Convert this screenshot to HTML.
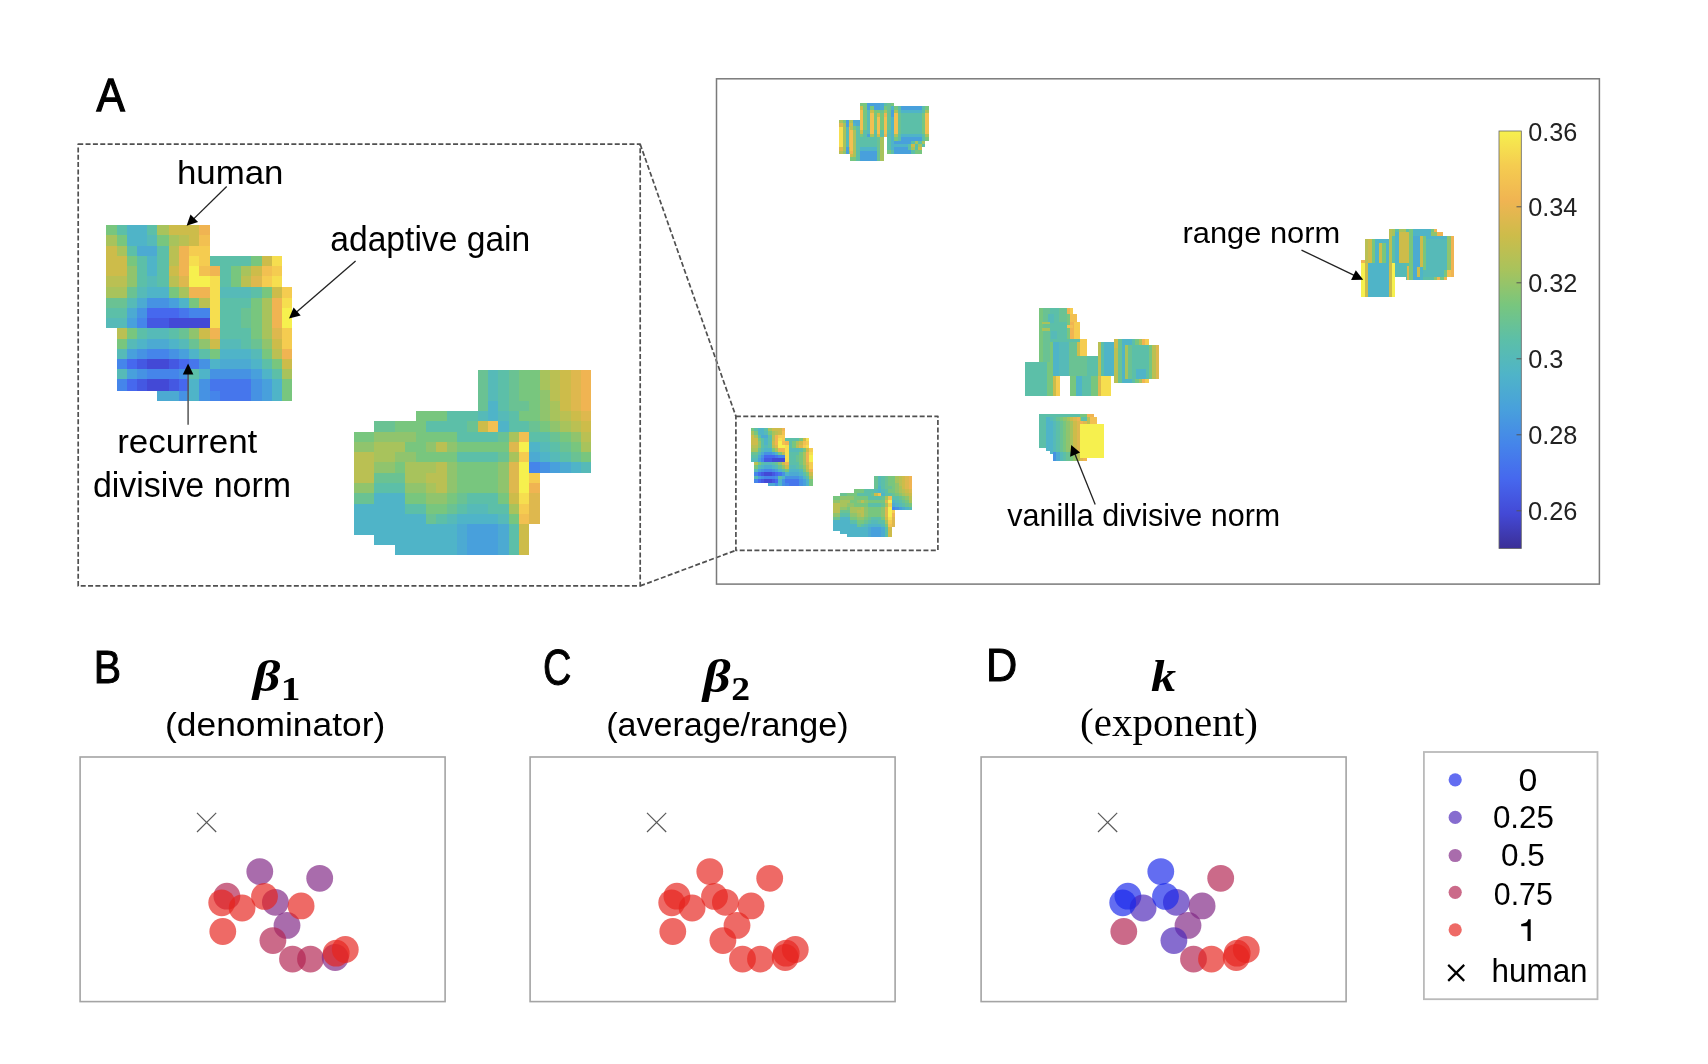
<!DOCTYPE html>
<html><head><meta charset="utf-8"><style>html,body{margin:0;padding:0;background:#fff;overflow:hidden}svg{display:block;will-change:transform}</style></head>
<body><svg width="1708" height="1064" viewBox="0 0 1708 1064">
<rect x="0" y="0" width="1708" height="1064" fill="#fff"/>
<text x="96.40" y="111.30" font-family="Liberation Sans" font-size="46.32" font-weight="normal" font-style="normal" fill="#000" textLength="28.34" lengthAdjust="spacingAndGlyphs" stroke="#000" stroke-width="1.30">A</text>
<text x="93.80" y="683.10" font-family="Liberation Sans" font-size="46.57" font-weight="normal" font-style="normal" fill="#000" textLength="27.37" lengthAdjust="spacingAndGlyphs" stroke="#000" stroke-width="1.00">B</text>
<text x="543.00" y="684.50" font-family="Liberation Sans" font-size="49.67" font-weight="normal" font-style="normal" fill="#000" textLength="28.41" lengthAdjust="spacingAndGlyphs" stroke="#000" stroke-width="1.00">C</text>
<text x="986.00" y="681.00" font-family="Liberation Sans" font-size="46.57" font-weight="normal" font-style="normal" fill="#000" textLength="31.28" lengthAdjust="spacingAndGlyphs" stroke="#000" stroke-width="1.00">D</text>
<rect x="78.2" y="144.2" width="562" height="441.7" stroke="#505050" stroke-width="1.7" stroke-dasharray="5 2.35" stroke-linejoin="round" fill="none"/>
<rect x="735.9" y="416.3" width="202" height="134" stroke="#505050" stroke-width="1.7" stroke-dasharray="5 2.35" stroke-linejoin="round" fill="none"/>
<line x1="640.2" y1="144.2" x2="735.9" y2="416.3" stroke="#505050" stroke-width="1.7" stroke-dasharray="5 2.35" stroke-linejoin="round" fill="none"/>
<line x1="640.2" y1="585.9" x2="735.9" y2="550.3" stroke="#505050" stroke-width="1.7" stroke-dasharray="5 2.35" stroke-linejoin="round" fill="none"/>
<rect x="716.5" y="78.8" width="882.9" height="505.3" stroke="#7a7a7a" stroke-width="1.5" fill="none"/>
<g shape-rendering="crispEdges"><rect x="106" y="225" width="11" height="10" fill="#78c67e"/>
<rect x="117" y="225" width="10" height="10" fill="#5cbfa8"/>
<rect x="127" y="225" width="10" height="10" fill="#4fb4c8"/>
<rect x="137" y="225" width="10" height="10" fill="#4fb4c8"/>
<rect x="147" y="225" width="10" height="10" fill="#5cbfa8"/>
<rect x="157" y="225" width="12" height="10" fill="#a8c35c"/>
<rect x="169" y="225" width="10" height="10" fill="#cdbc4a"/>
<rect x="179" y="225" width="10" height="10" fill="#cdbc4a"/>
<rect x="189" y="225" width="10" height="10" fill="#cdbc4a"/>
<rect x="199" y="225" width="11" height="10" fill="#f0b452"/>
<rect x="106" y="235" width="11" height="11" fill="#a8c35c"/>
<rect x="117" y="235" width="10" height="11" fill="#78c67e"/>
<rect x="127" y="235" width="10" height="11" fill="#4fb4c8"/>
<rect x="137" y="235" width="10" height="11" fill="#4fb4c8"/>
<rect x="147" y="235" width="10" height="11" fill="#56bab8"/>
<rect x="157" y="235" width="12" height="11" fill="#78c67e"/>
<rect x="169" y="235" width="10" height="11" fill="#a8c35c"/>
<rect x="179" y="235" width="10" height="11" fill="#bac053"/>
<rect x="189" y="235" width="10" height="11" fill="#cdbc4a"/>
<rect x="199" y="235" width="11" height="11" fill="#f2c051"/>
<rect x="106" y="246" width="11" height="10" fill="#cdbc4a"/>
<rect x="117" y="246" width="10" height="10" fill="#a8c35c"/>
<rect x="127" y="246" width="10" height="10" fill="#5cbfa8"/>
<rect x="137" y="246" width="10" height="10" fill="#4caad2"/>
<rect x="147" y="246" width="10" height="10" fill="#4caad2"/>
<rect x="157" y="246" width="12" height="10" fill="#5cbfa8"/>
<rect x="169" y="246" width="10" height="10" fill="#bac053"/>
<rect x="179" y="246" width="10" height="10" fill="#f0b452"/>
<rect x="189" y="246" width="10" height="10" fill="#f5cc50"/>
<rect x="199" y="246" width="11" height="10" fill="#f5cc50"/>
<rect x="106" y="256" width="11" height="10" fill="#cdbc4a"/>
<rect x="117" y="256" width="10" height="10" fill="#cdbc4a"/>
<rect x="127" y="256" width="10" height="10" fill="#78c67e"/>
<rect x="137" y="256" width="10" height="10" fill="#5cbfa8"/>
<rect x="147" y="256" width="10" height="10" fill="#4fb4c8"/>
<rect x="157" y="256" width="12" height="10" fill="#5cbfa8"/>
<rect x="169" y="256" width="10" height="10" fill="#bac053"/>
<rect x="179" y="256" width="10" height="10" fill="#f0b452"/>
<rect x="189" y="256" width="10" height="10" fill="#f6de4f"/>
<rect x="199" y="256" width="11" height="10" fill="#f5cc50"/>
<rect x="210" y="256" width="10" height="10" fill="#5cbfa8"/>
<rect x="220" y="256" width="11" height="10" fill="#5cbfa8"/>
<rect x="231" y="256" width="10" height="10" fill="#5cbfa8"/>
<rect x="241" y="256" width="10" height="10" fill="#5cbfa8"/>
<rect x="251" y="256" width="11" height="10" fill="#78c67e"/>
<rect x="262" y="256" width="10" height="10" fill="#cdbc4a"/>
<rect x="272" y="256" width="10" height="10" fill="#f6de4f"/>
<rect x="106" y="266" width="11" height="10" fill="#cdbc4a"/>
<rect x="117" y="266" width="10" height="10" fill="#cdbc4a"/>
<rect x="127" y="266" width="10" height="10" fill="#90c46d"/>
<rect x="137" y="266" width="10" height="10" fill="#5cbfa8"/>
<rect x="147" y="266" width="10" height="10" fill="#4fb4c8"/>
<rect x="157" y="266" width="12" height="10" fill="#5cbfa8"/>
<rect x="169" y="266" width="10" height="10" fill="#cdbc4a"/>
<rect x="179" y="266" width="10" height="10" fill="#f0b452"/>
<rect x="189" y="266" width="10" height="10" fill="#f6f04e"/>
<rect x="199" y="266" width="11" height="10" fill="#f2c051"/>
<rect x="210" y="266" width="10" height="10" fill="#f0b452"/>
<rect x="220" y="266" width="11" height="10" fill="#5cbfa8"/>
<rect x="231" y="266" width="10" height="10" fill="#78c67e"/>
<rect x="241" y="266" width="10" height="10" fill="#a8c35c"/>
<rect x="251" y="266" width="11" height="10" fill="#cdbc4a"/>
<rect x="262" y="266" width="10" height="10" fill="#f2c051"/>
<rect x="272" y="266" width="10" height="10" fill="#f5cc50"/>
<rect x="106" y="276" width="11" height="11" fill="#bac053"/>
<rect x="117" y="276" width="10" height="11" fill="#bac053"/>
<rect x="127" y="276" width="10" height="11" fill="#90c46d"/>
<rect x="137" y="276" width="10" height="11" fill="#5cbfa8"/>
<rect x="147" y="276" width="10" height="11" fill="#56bab8"/>
<rect x="157" y="276" width="12" height="11" fill="#5cbfa8"/>
<rect x="169" y="276" width="10" height="11" fill="#bac053"/>
<rect x="179" y="276" width="10" height="11" fill="#deb84e"/>
<rect x="189" y="276" width="10" height="11" fill="#f6f04e"/>
<rect x="199" y="276" width="11" height="11" fill="#f6f04e"/>
<rect x="210" y="276" width="10" height="11" fill="#f6de4f"/>
<rect x="220" y="276" width="11" height="11" fill="#5cbfa8"/>
<rect x="231" y="276" width="10" height="11" fill="#78c67e"/>
<rect x="241" y="276" width="10" height="11" fill="#bac053"/>
<rect x="251" y="276" width="11" height="11" fill="#deb84e"/>
<rect x="262" y="276" width="10" height="11" fill="#f5cc50"/>
<rect x="272" y="276" width="10" height="11" fill="#f6de4f"/>
<rect x="106" y="287" width="11" height="11" fill="#a8c35c"/>
<rect x="117" y="287" width="10" height="11" fill="#a8c35c"/>
<rect x="127" y="287" width="10" height="11" fill="#6ac293"/>
<rect x="137" y="287" width="10" height="11" fill="#56bab8"/>
<rect x="147" y="287" width="10" height="11" fill="#4fb4c8"/>
<rect x="157" y="287" width="12" height="11" fill="#4fb4c8"/>
<rect x="169" y="287" width="10" height="11" fill="#78c67e"/>
<rect x="179" y="287" width="10" height="11" fill="#a8c35c"/>
<rect x="189" y="287" width="10" height="11" fill="#f0b452"/>
<rect x="199" y="287" width="11" height="11" fill="#f0b452"/>
<rect x="210" y="287" width="10" height="11" fill="#f6de4f"/>
<rect x="220" y="287" width="11" height="11" fill="#56bab8"/>
<rect x="231" y="287" width="10" height="11" fill="#56bab8"/>
<rect x="241" y="287" width="10" height="11" fill="#56bab8"/>
<rect x="251" y="287" width="11" height="11" fill="#5cbfa8"/>
<rect x="262" y="287" width="10" height="11" fill="#78c67e"/>
<rect x="272" y="287" width="10" height="11" fill="#cdbc4a"/>
<rect x="282" y="287" width="10" height="11" fill="#f5cc50"/>
<rect x="106" y="298" width="11" height="10" fill="#6ac293"/>
<rect x="117" y="298" width="10" height="10" fill="#6ac293"/>
<rect x="127" y="298" width="10" height="10" fill="#56bab8"/>
<rect x="137" y="298" width="10" height="10" fill="#4caad2"/>
<rect x="147" y="298" width="10" height="10" fill="#4692e3"/>
<rect x="157" y="298" width="12" height="10" fill="#4692e3"/>
<rect x="169" y="298" width="10" height="10" fill="#48a0dc"/>
<rect x="179" y="298" width="10" height="10" fill="#4fb4c8"/>
<rect x="189" y="298" width="10" height="10" fill="#78c67e"/>
<rect x="199" y="298" width="11" height="10" fill="#bac053"/>
<rect x="210" y="298" width="10" height="10" fill="#f6de4f"/>
<rect x="220" y="298" width="11" height="10" fill="#5cbfa8"/>
<rect x="231" y="298" width="10" height="10" fill="#5cbfa8"/>
<rect x="241" y="298" width="10" height="10" fill="#5cbfa8"/>
<rect x="251" y="298" width="11" height="10" fill="#78c67e"/>
<rect x="262" y="298" width="10" height="10" fill="#a8c35c"/>
<rect x="272" y="298" width="10" height="10" fill="#f0b452"/>
<rect x="282" y="298" width="10" height="10" fill="#f6de4f"/>
<rect x="106" y="308" width="11" height="10" fill="#5cbfa8"/>
<rect x="117" y="308" width="10" height="10" fill="#5cbfa8"/>
<rect x="127" y="308" width="10" height="10" fill="#4caad2"/>
<rect x="137" y="308" width="10" height="10" fill="#4692e3"/>
<rect x="147" y="308" width="10" height="10" fill="#4668ee"/>
<rect x="157" y="308" width="12" height="10" fill="#4668ee"/>
<rect x="169" y="308" width="10" height="10" fill="#4668ee"/>
<rect x="179" y="308" width="10" height="10" fill="#4676ec"/>
<rect x="189" y="308" width="10" height="10" fill="#4585ea"/>
<rect x="199" y="308" width="11" height="10" fill="#4585ea"/>
<rect x="210" y="308" width="10" height="10" fill="#f6de4f"/>
<rect x="220" y="308" width="11" height="10" fill="#5cbfa8"/>
<rect x="231" y="308" width="10" height="10" fill="#5cbfa8"/>
<rect x="241" y="308" width="10" height="10" fill="#6ac293"/>
<rect x="251" y="308" width="11" height="10" fill="#78c67e"/>
<rect x="262" y="308" width="10" height="10" fill="#a8c35c"/>
<rect x="272" y="308" width="10" height="10" fill="#f0b452"/>
<rect x="282" y="308" width="10" height="10" fill="#f6f04e"/>
<rect x="106" y="318" width="11" height="10" fill="#56bab8"/>
<rect x="117" y="318" width="10" height="10" fill="#56bab8"/>
<rect x="127" y="318" width="10" height="10" fill="#48a0dc"/>
<rect x="137" y="318" width="10" height="10" fill="#4585ea"/>
<rect x="147" y="318" width="10" height="10" fill="#4458e2"/>
<rect x="157" y="318" width="12" height="10" fill="#4458e2"/>
<rect x="169" y="318" width="10" height="10" fill="#4349d6"/>
<rect x="179" y="318" width="10" height="10" fill="#4349d6"/>
<rect x="189" y="318" width="10" height="10" fill="#4349d6"/>
<rect x="199" y="318" width="11" height="10" fill="#4349d6"/>
<rect x="210" y="318" width="10" height="10" fill="#f6de4f"/>
<rect x="220" y="318" width="11" height="10" fill="#5cbfa8"/>
<rect x="231" y="318" width="10" height="10" fill="#5cbfa8"/>
<rect x="241" y="318" width="10" height="10" fill="#6ac293"/>
<rect x="251" y="318" width="11" height="10" fill="#78c67e"/>
<rect x="262" y="318" width="10" height="10" fill="#a8c35c"/>
<rect x="272" y="318" width="10" height="10" fill="#f0b452"/>
<rect x="282" y="318" width="10" height="10" fill="#f6f04e"/>
<rect x="117" y="328" width="10" height="11" fill="#bac053"/>
<rect x="127" y="328" width="10" height="11" fill="#78c67e"/>
<rect x="137" y="328" width="10" height="11" fill="#5cbfa8"/>
<rect x="147" y="328" width="10" height="11" fill="#56bab8"/>
<rect x="157" y="328" width="12" height="11" fill="#56bab8"/>
<rect x="169" y="328" width="10" height="11" fill="#5cbfa8"/>
<rect x="179" y="328" width="10" height="11" fill="#6ac293"/>
<rect x="189" y="328" width="10" height="11" fill="#90c46d"/>
<rect x="199" y="328" width="11" height="11" fill="#cdbc4a"/>
<rect x="210" y="328" width="10" height="11" fill="#f0b452"/>
<rect x="220" y="328" width="11" height="11" fill="#5cbfa8"/>
<rect x="231" y="328" width="10" height="11" fill="#5cbfa8"/>
<rect x="241" y="328" width="10" height="11" fill="#5cbfa8"/>
<rect x="251" y="328" width="11" height="11" fill="#78c67e"/>
<rect x="262" y="328" width="10" height="11" fill="#a8c35c"/>
<rect x="272" y="328" width="10" height="11" fill="#deb84e"/>
<rect x="282" y="328" width="10" height="11" fill="#f5cc50"/>
<rect x="117" y="339" width="10" height="10" fill="#78c67e"/>
<rect x="127" y="339" width="10" height="10" fill="#56bab8"/>
<rect x="137" y="339" width="10" height="10" fill="#4fb4c8"/>
<rect x="147" y="339" width="10" height="10" fill="#4caad2"/>
<rect x="157" y="339" width="12" height="10" fill="#4caad2"/>
<rect x="169" y="339" width="10" height="10" fill="#4fb4c8"/>
<rect x="179" y="339" width="10" height="10" fill="#56bab8"/>
<rect x="189" y="339" width="10" height="10" fill="#6ac293"/>
<rect x="199" y="339" width="11" height="10" fill="#90c46d"/>
<rect x="210" y="339" width="10" height="10" fill="#cdbc4a"/>
<rect x="220" y="339" width="11" height="10" fill="#56bab8"/>
<rect x="231" y="339" width="10" height="10" fill="#56bab8"/>
<rect x="241" y="339" width="10" height="10" fill="#5cbfa8"/>
<rect x="251" y="339" width="11" height="10" fill="#6ac293"/>
<rect x="262" y="339" width="10" height="10" fill="#90c46d"/>
<rect x="272" y="339" width="10" height="10" fill="#cdbc4a"/>
<rect x="282" y="339" width="10" height="10" fill="#f5cc50"/>
<rect x="117" y="349" width="10" height="10" fill="#56bab8"/>
<rect x="127" y="349" width="10" height="10" fill="#48a0dc"/>
<rect x="137" y="349" width="10" height="10" fill="#4692e3"/>
<rect x="147" y="349" width="10" height="10" fill="#4585ea"/>
<rect x="157" y="349" width="12" height="10" fill="#4585ea"/>
<rect x="169" y="349" width="10" height="10" fill="#4692e3"/>
<rect x="179" y="349" width="10" height="10" fill="#48a0dc"/>
<rect x="189" y="349" width="10" height="10" fill="#4fb4c8"/>
<rect x="199" y="349" width="11" height="10" fill="#5cbfa8"/>
<rect x="210" y="349" width="10" height="10" fill="#78c67e"/>
<rect x="220" y="349" width="11" height="10" fill="#4fb4c8"/>
<rect x="231" y="349" width="10" height="10" fill="#4fb4c8"/>
<rect x="241" y="349" width="10" height="10" fill="#4fb4c8"/>
<rect x="251" y="349" width="11" height="10" fill="#56bab8"/>
<rect x="262" y="349" width="10" height="10" fill="#78c67e"/>
<rect x="272" y="349" width="10" height="10" fill="#bac053"/>
<rect x="282" y="349" width="10" height="10" fill="#f0b452"/>
<rect x="117" y="359" width="10" height="10" fill="#4585ea"/>
<rect x="127" y="359" width="10" height="10" fill="#4668ee"/>
<rect x="137" y="359" width="10" height="10" fill="#4458e2"/>
<rect x="147" y="359" width="10" height="10" fill="#4349d6"/>
<rect x="157" y="359" width="12" height="10" fill="#4349d6"/>
<rect x="169" y="359" width="10" height="10" fill="#4458e2"/>
<rect x="179" y="359" width="10" height="10" fill="#4668ee"/>
<rect x="189" y="359" width="10" height="10" fill="#4676ec"/>
<rect x="199" y="359" width="11" height="10" fill="#4692e3"/>
<rect x="210" y="359" width="10" height="10" fill="#4fb4c8"/>
<rect x="220" y="359" width="11" height="10" fill="#4caad2"/>
<rect x="231" y="359" width="10" height="10" fill="#4caad2"/>
<rect x="241" y="359" width="10" height="10" fill="#4caad2"/>
<rect x="251" y="359" width="11" height="10" fill="#4fb4c8"/>
<rect x="262" y="359" width="10" height="10" fill="#5cbfa8"/>
<rect x="272" y="359" width="10" height="10" fill="#78c67e"/>
<rect x="282" y="359" width="10" height="10" fill="#cdbc4a"/>
<rect x="117" y="369" width="10" height="10" fill="#56bab8"/>
<rect x="127" y="369" width="10" height="10" fill="#48a0dc"/>
<rect x="137" y="369" width="10" height="10" fill="#4692e3"/>
<rect x="147" y="369" width="10" height="10" fill="#4585ea"/>
<rect x="157" y="369" width="12" height="10" fill="#4585ea"/>
<rect x="169" y="369" width="10" height="10" fill="#4585ea"/>
<rect x="179" y="369" width="10" height="10" fill="#4692e3"/>
<rect x="189" y="369" width="10" height="10" fill="#5cbfa8"/>
<rect x="199" y="369" width="11" height="10" fill="#4fb4c8"/>
<rect x="210" y="369" width="10" height="10" fill="#4692e3"/>
<rect x="220" y="369" width="11" height="10" fill="#4692e3"/>
<rect x="231" y="369" width="10" height="10" fill="#4692e3"/>
<rect x="241" y="369" width="10" height="10" fill="#4692e3"/>
<rect x="251" y="369" width="11" height="10" fill="#48a0dc"/>
<rect x="262" y="369" width="10" height="10" fill="#4fb4c8"/>
<rect x="272" y="369" width="10" height="10" fill="#5cbfa8"/>
<rect x="282" y="369" width="10" height="10" fill="#a8c35c"/>
<rect x="117" y="379" width="10" height="12" fill="#4585ea"/>
<rect x="127" y="379" width="10" height="12" fill="#4668ee"/>
<rect x="137" y="379" width="10" height="12" fill="#4458e2"/>
<rect x="147" y="379" width="10" height="12" fill="#4349d6"/>
<rect x="157" y="379" width="12" height="12" fill="#4349d6"/>
<rect x="169" y="379" width="10" height="12" fill="#4458e2"/>
<rect x="179" y="379" width="10" height="12" fill="#4668ee"/>
<rect x="189" y="379" width="10" height="12" fill="#4fb4c8"/>
<rect x="199" y="379" width="11" height="12" fill="#4692e3"/>
<rect x="210" y="379" width="10" height="12" fill="#4676ec"/>
<rect x="220" y="379" width="11" height="12" fill="#4676ec"/>
<rect x="231" y="379" width="10" height="12" fill="#4676ec"/>
<rect x="241" y="379" width="10" height="12" fill="#4676ec"/>
<rect x="251" y="379" width="11" height="12" fill="#4692e3"/>
<rect x="262" y="379" width="10" height="12" fill="#48a0dc"/>
<rect x="272" y="379" width="10" height="12" fill="#4fb4c8"/>
<rect x="282" y="379" width="10" height="12" fill="#78c67e"/>
<rect x="157" y="391" width="12" height="10" fill="#4caad2"/>
<rect x="169" y="391" width="10" height="10" fill="#4caad2"/>
<rect x="179" y="391" width="10" height="10" fill="#4692e3"/>
<rect x="189" y="391" width="10" height="10" fill="#4fb4c8"/>
<rect x="199" y="391" width="11" height="10" fill="#4692e3"/>
<rect x="210" y="391" width="10" height="10" fill="#4585ea"/>
<rect x="220" y="391" width="11" height="10" fill="#4676ec"/>
<rect x="231" y="391" width="10" height="10" fill="#4676ec"/>
<rect x="241" y="391" width="10" height="10" fill="#4676ec"/>
<rect x="251" y="391" width="11" height="10" fill="#4692e3"/>
<rect x="262" y="391" width="10" height="10" fill="#48a0dc"/>
<rect x="272" y="391" width="10" height="10" fill="#4fb4c8"/>
<rect x="282" y="391" width="10" height="10" fill="#78c67e"/>
<rect x="478" y="370" width="10" height="10" fill="#6ac293"/>
<rect x="488" y="370" width="10" height="10" fill="#56bab8"/>
<rect x="498" y="370" width="11" height="10" fill="#5cbfa8"/>
<rect x="509" y="370" width="10" height="10" fill="#6ac293"/>
<rect x="519" y="370" width="10" height="10" fill="#78c67e"/>
<rect x="529" y="370" width="11" height="10" fill="#78c67e"/>
<rect x="540" y="370" width="10" height="10" fill="#a8c35c"/>
<rect x="550" y="370" width="10" height="10" fill="#bac053"/>
<rect x="560" y="370" width="11" height="10" fill="#cdbc4a"/>
<rect x="571" y="370" width="10" height="10" fill="#deb84e"/>
<rect x="581" y="370" width="10" height="10" fill="#f0b452"/>
<rect x="478" y="380" width="10" height="10" fill="#6ac293"/>
<rect x="488" y="380" width="10" height="10" fill="#56bab8"/>
<rect x="498" y="380" width="11" height="10" fill="#5cbfa8"/>
<rect x="509" y="380" width="10" height="10" fill="#6ac293"/>
<rect x="519" y="380" width="10" height="10" fill="#78c67e"/>
<rect x="529" y="380" width="11" height="10" fill="#78c67e"/>
<rect x="540" y="380" width="10" height="10" fill="#a8c35c"/>
<rect x="550" y="380" width="10" height="10" fill="#bac053"/>
<rect x="560" y="380" width="11" height="10" fill="#cdbc4a"/>
<rect x="571" y="380" width="10" height="10" fill="#deb84e"/>
<rect x="581" y="380" width="10" height="10" fill="#f0b452"/>
<rect x="478" y="390" width="10" height="11" fill="#6ac293"/>
<rect x="488" y="390" width="10" height="11" fill="#56bab8"/>
<rect x="498" y="390" width="11" height="11" fill="#5cbfa8"/>
<rect x="509" y="390" width="10" height="11" fill="#6ac293"/>
<rect x="519" y="390" width="10" height="11" fill="#78c67e"/>
<rect x="529" y="390" width="11" height="11" fill="#78c67e"/>
<rect x="540" y="390" width="10" height="11" fill="#90c46d"/>
<rect x="550" y="390" width="10" height="11" fill="#bac053"/>
<rect x="560" y="390" width="11" height="11" fill="#cdbc4a"/>
<rect x="571" y="390" width="10" height="11" fill="#deb84e"/>
<rect x="581" y="390" width="10" height="11" fill="#f0b452"/>
<rect x="478" y="401" width="10" height="10" fill="#6ac293"/>
<rect x="488" y="401" width="10" height="10" fill="#4fb4c8"/>
<rect x="498" y="401" width="11" height="10" fill="#5cbfa8"/>
<rect x="509" y="401" width="10" height="10" fill="#6ac293"/>
<rect x="519" y="401" width="10" height="10" fill="#6ac293"/>
<rect x="529" y="401" width="11" height="10" fill="#78c67e"/>
<rect x="540" y="401" width="10" height="10" fill="#90c46d"/>
<rect x="550" y="401" width="10" height="10" fill="#a8c35c"/>
<rect x="560" y="401" width="11" height="10" fill="#cdbc4a"/>
<rect x="571" y="401" width="10" height="10" fill="#deb84e"/>
<rect x="581" y="401" width="10" height="10" fill="#f0b452"/>
<rect x="416" y="411" width="10" height="10" fill="#78c67e"/>
<rect x="426" y="411" width="10" height="10" fill="#78c67e"/>
<rect x="436" y="411" width="11" height="10" fill="#78c67e"/>
<rect x="447" y="411" width="10" height="10" fill="#5cbfa8"/>
<rect x="457" y="411" width="10" height="10" fill="#5cbfa8"/>
<rect x="467" y="411" width="11" height="10" fill="#5cbfa8"/>
<rect x="478" y="411" width="10" height="10" fill="#56bab8"/>
<rect x="488" y="411" width="10" height="10" fill="#4fb4c8"/>
<rect x="498" y="411" width="11" height="10" fill="#56bab8"/>
<rect x="509" y="411" width="10" height="10" fill="#5cbfa8"/>
<rect x="519" y="411" width="10" height="10" fill="#78c67e"/>
<rect x="529" y="411" width="11" height="10" fill="#78c67e"/>
<rect x="540" y="411" width="10" height="10" fill="#90c46d"/>
<rect x="550" y="411" width="10" height="10" fill="#a8c35c"/>
<rect x="560" y="411" width="11" height="10" fill="#bac053"/>
<rect x="571" y="411" width="10" height="10" fill="#cdbc4a"/>
<rect x="581" y="411" width="10" height="10" fill="#deb84e"/>
<rect x="374" y="421" width="11" height="11" fill="#6ac293"/>
<rect x="385" y="421" width="10" height="11" fill="#6ac293"/>
<rect x="395" y="421" width="10" height="11" fill="#78c67e"/>
<rect x="405" y="421" width="11" height="11" fill="#78c67e"/>
<rect x="416" y="421" width="10" height="11" fill="#78c67e"/>
<rect x="426" y="421" width="10" height="11" fill="#5cbfa8"/>
<rect x="436" y="421" width="11" height="11" fill="#5cbfa8"/>
<rect x="447" y="421" width="10" height="11" fill="#5cbfa8"/>
<rect x="457" y="421" width="10" height="11" fill="#5cbfa8"/>
<rect x="467" y="421" width="11" height="11" fill="#6ac293"/>
<rect x="478" y="421" width="10" height="11" fill="#cdbc4a"/>
<rect x="488" y="421" width="10" height="11" fill="#f2c051"/>
<rect x="498" y="421" width="11" height="11" fill="#4fb4c8"/>
<rect x="509" y="421" width="10" height="11" fill="#5cbfa8"/>
<rect x="519" y="421" width="10" height="11" fill="#5cbfa8"/>
<rect x="529" y="421" width="11" height="11" fill="#6ac293"/>
<rect x="540" y="421" width="10" height="11" fill="#78c67e"/>
<rect x="550" y="421" width="10" height="11" fill="#90c46d"/>
<rect x="560" y="421" width="11" height="11" fill="#a8c35c"/>
<rect x="571" y="421" width="10" height="11" fill="#bac053"/>
<rect x="581" y="421" width="10" height="11" fill="#cdbc4a"/>
<rect x="354" y="432" width="10" height="10" fill="#78c67e"/>
<rect x="364" y="432" width="10" height="10" fill="#78c67e"/>
<rect x="374" y="432" width="11" height="10" fill="#90c46d"/>
<rect x="385" y="432" width="10" height="10" fill="#90c46d"/>
<rect x="395" y="432" width="10" height="10" fill="#90c46d"/>
<rect x="405" y="432" width="11" height="10" fill="#90c46d"/>
<rect x="416" y="432" width="10" height="10" fill="#78c67e"/>
<rect x="426" y="432" width="10" height="10" fill="#78c67e"/>
<rect x="436" y="432" width="11" height="10" fill="#78c67e"/>
<rect x="447" y="432" width="10" height="10" fill="#78c67e"/>
<rect x="457" y="432" width="10" height="10" fill="#5cbfa8"/>
<rect x="467" y="432" width="11" height="10" fill="#5cbfa8"/>
<rect x="478" y="432" width="10" height="10" fill="#5cbfa8"/>
<rect x="488" y="432" width="10" height="10" fill="#5cbfa8"/>
<rect x="498" y="432" width="11" height="10" fill="#6ac293"/>
<rect x="509" y="432" width="10" height="10" fill="#a8c35c"/>
<rect x="519" y="432" width="10" height="10" fill="#f2c051"/>
<rect x="529" y="432" width="11" height="10" fill="#5cbfa8"/>
<rect x="540" y="432" width="10" height="10" fill="#5cbfa8"/>
<rect x="550" y="432" width="10" height="10" fill="#6ac293"/>
<rect x="560" y="432" width="11" height="10" fill="#78c67e"/>
<rect x="571" y="432" width="10" height="10" fill="#90c46d"/>
<rect x="581" y="432" width="10" height="10" fill="#bac053"/>
<rect x="354" y="442" width="10" height="10" fill="#90c46d"/>
<rect x="364" y="442" width="10" height="10" fill="#90c46d"/>
<rect x="374" y="442" width="11" height="10" fill="#a8c35c"/>
<rect x="385" y="442" width="10" height="10" fill="#a8c35c"/>
<rect x="395" y="442" width="10" height="10" fill="#a8c35c"/>
<rect x="405" y="442" width="11" height="10" fill="#78c67e"/>
<rect x="416" y="442" width="10" height="10" fill="#78c67e"/>
<rect x="426" y="442" width="10" height="10" fill="#90c46d"/>
<rect x="436" y="442" width="11" height="10" fill="#bac053"/>
<rect x="447" y="442" width="10" height="10" fill="#90c46d"/>
<rect x="457" y="442" width="10" height="10" fill="#78c67e"/>
<rect x="467" y="442" width="11" height="10" fill="#78c67e"/>
<rect x="478" y="442" width="10" height="10" fill="#78c67e"/>
<rect x="488" y="442" width="10" height="10" fill="#78c67e"/>
<rect x="498" y="442" width="11" height="10" fill="#78c67e"/>
<rect x="509" y="442" width="10" height="10" fill="#deb84e"/>
<rect x="519" y="442" width="10" height="10" fill="#f6f04e"/>
<rect x="529" y="442" width="11" height="10" fill="#4fb4c8"/>
<rect x="540" y="442" width="10" height="10" fill="#56bab8"/>
<rect x="550" y="442" width="10" height="10" fill="#5cbfa8"/>
<rect x="560" y="442" width="11" height="10" fill="#6ac293"/>
<rect x="571" y="442" width="10" height="10" fill="#78c67e"/>
<rect x="581" y="442" width="10" height="10" fill="#a8c35c"/>
<rect x="354" y="452" width="10" height="10" fill="#bac053"/>
<rect x="364" y="452" width="10" height="10" fill="#bac053"/>
<rect x="374" y="452" width="11" height="10" fill="#a8c35c"/>
<rect x="385" y="452" width="10" height="10" fill="#a8c35c"/>
<rect x="395" y="452" width="10" height="10" fill="#90c46d"/>
<rect x="405" y="452" width="11" height="10" fill="#90c46d"/>
<rect x="416" y="452" width="10" height="10" fill="#78c67e"/>
<rect x="426" y="452" width="10" height="10" fill="#78c67e"/>
<rect x="436" y="452" width="11" height="10" fill="#78c67e"/>
<rect x="447" y="452" width="10" height="10" fill="#78c67e"/>
<rect x="457" y="452" width="10" height="10" fill="#5cbfa8"/>
<rect x="467" y="452" width="11" height="10" fill="#5cbfa8"/>
<rect x="478" y="452" width="10" height="10" fill="#5cbfa8"/>
<rect x="488" y="452" width="10" height="10" fill="#5cbfa8"/>
<rect x="498" y="452" width="11" height="10" fill="#6ac293"/>
<rect x="509" y="452" width="10" height="10" fill="#a8c35c"/>
<rect x="519" y="452" width="10" height="10" fill="#f5cc50"/>
<rect x="529" y="452" width="11" height="10" fill="#4caad2"/>
<rect x="540" y="452" width="10" height="10" fill="#4fb4c8"/>
<rect x="550" y="452" width="10" height="10" fill="#56bab8"/>
<rect x="560" y="452" width="11" height="10" fill="#5cbfa8"/>
<rect x="571" y="452" width="10" height="10" fill="#6ac293"/>
<rect x="581" y="452" width="10" height="10" fill="#78c67e"/>
<rect x="354" y="462" width="10" height="11" fill="#bac053"/>
<rect x="364" y="462" width="10" height="11" fill="#bac053"/>
<rect x="374" y="462" width="11" height="11" fill="#90c46d"/>
<rect x="385" y="462" width="10" height="11" fill="#90c46d"/>
<rect x="395" y="462" width="10" height="11" fill="#78c67e"/>
<rect x="405" y="462" width="11" height="11" fill="#a8c35c"/>
<rect x="416" y="462" width="10" height="11" fill="#a8c35c"/>
<rect x="426" y="462" width="10" height="11" fill="#a8c35c"/>
<rect x="436" y="462" width="11" height="11" fill="#bac053"/>
<rect x="447" y="462" width="10" height="11" fill="#90c46d"/>
<rect x="457" y="462" width="10" height="11" fill="#78c67e"/>
<rect x="467" y="462" width="11" height="11" fill="#78c67e"/>
<rect x="478" y="462" width="10" height="11" fill="#78c67e"/>
<rect x="488" y="462" width="10" height="11" fill="#78c67e"/>
<rect x="498" y="462" width="11" height="11" fill="#90c46d"/>
<rect x="509" y="462" width="10" height="11" fill="#deb84e"/>
<rect x="519" y="462" width="10" height="11" fill="#f6f04e"/>
<rect x="529" y="462" width="11" height="11" fill="#4585ea"/>
<rect x="540" y="462" width="10" height="11" fill="#4692e3"/>
<rect x="550" y="462" width="10" height="11" fill="#48a0dc"/>
<rect x="560" y="462" width="11" height="11" fill="#4caad2"/>
<rect x="571" y="462" width="10" height="11" fill="#4fb4c8"/>
<rect x="581" y="462" width="10" height="11" fill="#56bab8"/>
<rect x="354" y="473" width="10" height="10" fill="#bac053"/>
<rect x="364" y="473" width="10" height="10" fill="#bac053"/>
<rect x="374" y="473" width="11" height="10" fill="#6ac293"/>
<rect x="385" y="473" width="10" height="10" fill="#6ac293"/>
<rect x="395" y="473" width="10" height="10" fill="#6ac293"/>
<rect x="405" y="473" width="11" height="10" fill="#a8c35c"/>
<rect x="416" y="473" width="10" height="10" fill="#a8c35c"/>
<rect x="426" y="473" width="10" height="10" fill="#bac053"/>
<rect x="436" y="473" width="11" height="10" fill="#bac053"/>
<rect x="447" y="473" width="10" height="10" fill="#90c46d"/>
<rect x="457" y="473" width="10" height="10" fill="#78c67e"/>
<rect x="467" y="473" width="11" height="10" fill="#78c67e"/>
<rect x="478" y="473" width="10" height="10" fill="#78c67e"/>
<rect x="488" y="473" width="10" height="10" fill="#78c67e"/>
<rect x="498" y="473" width="11" height="10" fill="#90c46d"/>
<rect x="509" y="473" width="10" height="10" fill="#deb84e"/>
<rect x="519" y="473" width="10" height="10" fill="#f6f04e"/>
<rect x="529" y="473" width="11" height="10" fill="#f5cc50"/>
<rect x="354" y="483" width="10" height="10" fill="#90c46d"/>
<rect x="364" y="483" width="10" height="10" fill="#90c46d"/>
<rect x="374" y="483" width="11" height="10" fill="#5cbfa8"/>
<rect x="385" y="483" width="10" height="10" fill="#5cbfa8"/>
<rect x="395" y="483" width="10" height="10" fill="#5cbfa8"/>
<rect x="405" y="483" width="11" height="10" fill="#90c46d"/>
<rect x="416" y="483" width="10" height="10" fill="#90c46d"/>
<rect x="426" y="483" width="10" height="10" fill="#a8c35c"/>
<rect x="436" y="483" width="11" height="10" fill="#bac053"/>
<rect x="447" y="483" width="10" height="10" fill="#90c46d"/>
<rect x="457" y="483" width="10" height="10" fill="#78c67e"/>
<rect x="467" y="483" width="11" height="10" fill="#78c67e"/>
<rect x="478" y="483" width="10" height="10" fill="#78c67e"/>
<rect x="488" y="483" width="10" height="10" fill="#78c67e"/>
<rect x="498" y="483" width="11" height="10" fill="#90c46d"/>
<rect x="509" y="483" width="10" height="10" fill="#deb84e"/>
<rect x="519" y="483" width="10" height="10" fill="#f6f04e"/>
<rect x="529" y="483" width="11" height="10" fill="#f0b452"/>
<rect x="354" y="493" width="10" height="11" fill="#6ac293"/>
<rect x="364" y="493" width="10" height="11" fill="#6ac293"/>
<rect x="374" y="493" width="11" height="11" fill="#4fb4c8"/>
<rect x="385" y="493" width="10" height="11" fill="#4fb4c8"/>
<rect x="395" y="493" width="10" height="11" fill="#4fb4c8"/>
<rect x="405" y="493" width="11" height="11" fill="#78c67e"/>
<rect x="416" y="493" width="10" height="11" fill="#78c67e"/>
<rect x="426" y="493" width="10" height="11" fill="#90c46d"/>
<rect x="436" y="493" width="11" height="11" fill="#90c46d"/>
<rect x="447" y="493" width="10" height="11" fill="#78c67e"/>
<rect x="457" y="493" width="10" height="11" fill="#6ac293"/>
<rect x="467" y="493" width="11" height="11" fill="#5cbfa8"/>
<rect x="478" y="493" width="10" height="11" fill="#5cbfa8"/>
<rect x="488" y="493" width="10" height="11" fill="#5cbfa8"/>
<rect x="498" y="493" width="11" height="11" fill="#78c67e"/>
<rect x="509" y="493" width="10" height="11" fill="#cdbc4a"/>
<rect x="519" y="493" width="10" height="11" fill="#f6de4f"/>
<rect x="529" y="493" width="11" height="11" fill="#deb84e"/>
<rect x="354" y="504" width="10" height="10" fill="#4fb4c8"/>
<rect x="364" y="504" width="10" height="10" fill="#4fb4c8"/>
<rect x="374" y="504" width="11" height="10" fill="#4fb4c8"/>
<rect x="385" y="504" width="10" height="10" fill="#4fb4c8"/>
<rect x="395" y="504" width="10" height="10" fill="#4fb4c8"/>
<rect x="405" y="504" width="11" height="10" fill="#5cbfa8"/>
<rect x="416" y="504" width="10" height="10" fill="#5cbfa8"/>
<rect x="426" y="504" width="10" height="10" fill="#78c67e"/>
<rect x="436" y="504" width="11" height="10" fill="#78c67e"/>
<rect x="447" y="504" width="10" height="10" fill="#6ac293"/>
<rect x="457" y="504" width="10" height="10" fill="#5cbfa8"/>
<rect x="467" y="504" width="11" height="10" fill="#56bab8"/>
<rect x="478" y="504" width="10" height="10" fill="#56bab8"/>
<rect x="488" y="504" width="10" height="10" fill="#5cbfa8"/>
<rect x="498" y="504" width="11" height="10" fill="#5cbfa8"/>
<rect x="509" y="504" width="10" height="10" fill="#a8c35c"/>
<rect x="519" y="504" width="10" height="10" fill="#f5cc50"/>
<rect x="529" y="504" width="11" height="10" fill="#deb84e"/>
<rect x="354" y="514" width="10" height="10" fill="#4fb4c8"/>
<rect x="364" y="514" width="10" height="10" fill="#4fb4c8"/>
<rect x="374" y="514" width="11" height="10" fill="#4fb4c8"/>
<rect x="385" y="514" width="10" height="10" fill="#4fb4c8"/>
<rect x="395" y="514" width="10" height="10" fill="#4fb4c8"/>
<rect x="405" y="514" width="11" height="10" fill="#4fb4c8"/>
<rect x="416" y="514" width="10" height="10" fill="#4fb4c8"/>
<rect x="426" y="514" width="10" height="10" fill="#6ac293"/>
<rect x="436" y="514" width="11" height="10" fill="#5cbfa8"/>
<rect x="447" y="514" width="10" height="10" fill="#56bab8"/>
<rect x="457" y="514" width="10" height="10" fill="#4fb4c8"/>
<rect x="467" y="514" width="11" height="10" fill="#4fb4c8"/>
<rect x="478" y="514" width="10" height="10" fill="#4fb4c8"/>
<rect x="488" y="514" width="10" height="10" fill="#4fb4c8"/>
<rect x="498" y="514" width="11" height="10" fill="#56bab8"/>
<rect x="509" y="514" width="10" height="10" fill="#78c67e"/>
<rect x="519" y="514" width="10" height="10" fill="#f2c051"/>
<rect x="529" y="514" width="11" height="10" fill="#deb84e"/>
<rect x="354" y="524" width="10" height="11" fill="#4fb4c8"/>
<rect x="364" y="524" width="10" height="11" fill="#4fb4c8"/>
<rect x="374" y="524" width="11" height="11" fill="#4fb4c8"/>
<rect x="385" y="524" width="10" height="11" fill="#4fb4c8"/>
<rect x="395" y="524" width="10" height="11" fill="#4fb4c8"/>
<rect x="405" y="524" width="11" height="11" fill="#4fb4c8"/>
<rect x="416" y="524" width="10" height="11" fill="#4fb4c8"/>
<rect x="426" y="524" width="10" height="11" fill="#4fb4c8"/>
<rect x="436" y="524" width="11" height="11" fill="#4fb4c8"/>
<rect x="447" y="524" width="10" height="11" fill="#4fb4c8"/>
<rect x="457" y="524" width="10" height="11" fill="#4caad2"/>
<rect x="467" y="524" width="11" height="11" fill="#48a0dc"/>
<rect x="478" y="524" width="10" height="11" fill="#48a0dc"/>
<rect x="488" y="524" width="10" height="11" fill="#48a0dc"/>
<rect x="498" y="524" width="11" height="11" fill="#4caad2"/>
<rect x="509" y="524" width="10" height="11" fill="#5cbfa8"/>
<rect x="519" y="524" width="10" height="11" fill="#cdbc4a"/>
<rect x="374" y="535" width="11" height="10" fill="#4fb4c8"/>
<rect x="385" y="535" width="10" height="10" fill="#4fb4c8"/>
<rect x="395" y="535" width="10" height="10" fill="#4fb4c8"/>
<rect x="405" y="535" width="11" height="10" fill="#4fb4c8"/>
<rect x="416" y="535" width="10" height="10" fill="#4fb4c8"/>
<rect x="426" y="535" width="10" height="10" fill="#4fb4c8"/>
<rect x="436" y="535" width="11" height="10" fill="#4fb4c8"/>
<rect x="447" y="535" width="10" height="10" fill="#4fb4c8"/>
<rect x="457" y="535" width="10" height="10" fill="#4caad2"/>
<rect x="467" y="535" width="11" height="10" fill="#48a0dc"/>
<rect x="478" y="535" width="10" height="10" fill="#48a0dc"/>
<rect x="488" y="535" width="10" height="10" fill="#48a0dc"/>
<rect x="498" y="535" width="11" height="10" fill="#4caad2"/>
<rect x="509" y="535" width="10" height="10" fill="#5cbfa8"/>
<rect x="519" y="535" width="10" height="10" fill="#cdbc4a"/>
<rect x="395" y="545" width="10" height="10" fill="#4fb4c8"/>
<rect x="405" y="545" width="11" height="10" fill="#4fb4c8"/>
<rect x="416" y="545" width="10" height="10" fill="#4fb4c8"/>
<rect x="426" y="545" width="10" height="10" fill="#4fb4c8"/>
<rect x="436" y="545" width="11" height="10" fill="#4fb4c8"/>
<rect x="447" y="545" width="10" height="10" fill="#4fb4c8"/>
<rect x="457" y="545" width="10" height="10" fill="#4caad2"/>
<rect x="467" y="545" width="11" height="10" fill="#48a0dc"/>
<rect x="478" y="545" width="10" height="10" fill="#48a0dc"/>
<rect x="488" y="545" width="10" height="10" fill="#48a0dc"/>
<rect x="498" y="545" width="11" height="10" fill="#4caad2"/>
<rect x="509" y="545" width="10" height="10" fill="#5cbfa8"/>
<rect x="519" y="545" width="10" height="10" fill="#cdbc4a"/></g>
<g shape-rendering="crispEdges"><rect x="751" y="428" width="3" height="3" fill="#78c67e"/>
<rect x="754" y="428" width="4" height="3" fill="#5cbfa8"/>
<rect x="758" y="428" width="3" height="3" fill="#4fb4c8"/>
<rect x="761" y="428" width="3" height="3" fill="#4fb4c8"/>
<rect x="764" y="428" width="4" height="3" fill="#5cbfa8"/>
<rect x="768" y="428" width="4" height="3" fill="#a8c35c"/>
<rect x="772" y="428" width="3" height="3" fill="#cdbc4a"/>
<rect x="775" y="428" width="3" height="3" fill="#cdbc4a"/>
<rect x="778" y="428" width="4" height="3" fill="#cdbc4a"/>
<rect x="782" y="428" width="3" height="3" fill="#f0b452"/>
<rect x="751" y="431" width="3" height="4" fill="#a8c35c"/>
<rect x="754" y="431" width="4" height="4" fill="#78c67e"/>
<rect x="758" y="431" width="3" height="4" fill="#4fb4c8"/>
<rect x="761" y="431" width="3" height="4" fill="#4fb4c8"/>
<rect x="764" y="431" width="4" height="4" fill="#56bab8"/>
<rect x="768" y="431" width="4" height="4" fill="#78c67e"/>
<rect x="772" y="431" width="3" height="4" fill="#a8c35c"/>
<rect x="775" y="431" width="3" height="4" fill="#bac053"/>
<rect x="778" y="431" width="4" height="4" fill="#cdbc4a"/>
<rect x="782" y="431" width="3" height="4" fill="#f2c051"/>
<rect x="751" y="435" width="3" height="3" fill="#cdbc4a"/>
<rect x="754" y="435" width="4" height="3" fill="#a8c35c"/>
<rect x="758" y="435" width="3" height="3" fill="#5cbfa8"/>
<rect x="761" y="435" width="3" height="3" fill="#4caad2"/>
<rect x="764" y="435" width="4" height="3" fill="#4caad2"/>
<rect x="768" y="435" width="4" height="3" fill="#5cbfa8"/>
<rect x="772" y="435" width="3" height="3" fill="#bac053"/>
<rect x="775" y="435" width="3" height="3" fill="#f0b452"/>
<rect x="778" y="435" width="4" height="3" fill="#f5cc50"/>
<rect x="782" y="435" width="3" height="3" fill="#f5cc50"/>
<rect x="751" y="438" width="3" height="3" fill="#cdbc4a"/>
<rect x="754" y="438" width="4" height="3" fill="#cdbc4a"/>
<rect x="758" y="438" width="3" height="3" fill="#78c67e"/>
<rect x="761" y="438" width="3" height="3" fill="#5cbfa8"/>
<rect x="764" y="438" width="4" height="3" fill="#4fb4c8"/>
<rect x="768" y="438" width="4" height="3" fill="#5cbfa8"/>
<rect x="772" y="438" width="3" height="3" fill="#bac053"/>
<rect x="775" y="438" width="3" height="3" fill="#f0b452"/>
<rect x="778" y="438" width="4" height="3" fill="#f6de4f"/>
<rect x="782" y="438" width="3" height="3" fill="#f5cc50"/>
<rect x="785" y="438" width="4" height="3" fill="#5cbfa8"/>
<rect x="789" y="438" width="3" height="3" fill="#5cbfa8"/>
<rect x="792" y="438" width="4" height="3" fill="#5cbfa8"/>
<rect x="796" y="438" width="3" height="3" fill="#5cbfa8"/>
<rect x="799" y="438" width="4" height="3" fill="#78c67e"/>
<rect x="803" y="438" width="3" height="3" fill="#cdbc4a"/>
<rect x="806" y="438" width="3" height="3" fill="#f6de4f"/>
<rect x="751" y="441" width="3" height="4" fill="#cdbc4a"/>
<rect x="754" y="441" width="4" height="4" fill="#cdbc4a"/>
<rect x="758" y="441" width="3" height="4" fill="#90c46d"/>
<rect x="761" y="441" width="3" height="4" fill="#5cbfa8"/>
<rect x="764" y="441" width="4" height="4" fill="#4fb4c8"/>
<rect x="768" y="441" width="4" height="4" fill="#5cbfa8"/>
<rect x="772" y="441" width="3" height="4" fill="#cdbc4a"/>
<rect x="775" y="441" width="3" height="4" fill="#f0b452"/>
<rect x="778" y="441" width="4" height="4" fill="#f6f04e"/>
<rect x="782" y="441" width="3" height="4" fill="#f2c051"/>
<rect x="785" y="441" width="4" height="4" fill="#f0b452"/>
<rect x="789" y="441" width="3" height="4" fill="#5cbfa8"/>
<rect x="792" y="441" width="4" height="4" fill="#78c67e"/>
<rect x="796" y="441" width="3" height="4" fill="#a8c35c"/>
<rect x="799" y="441" width="4" height="4" fill="#cdbc4a"/>
<rect x="803" y="441" width="3" height="4" fill="#f2c051"/>
<rect x="806" y="441" width="3" height="4" fill="#f5cc50"/>
<rect x="751" y="445" width="3" height="3" fill="#bac053"/>
<rect x="754" y="445" width="4" height="3" fill="#bac053"/>
<rect x="758" y="445" width="3" height="3" fill="#90c46d"/>
<rect x="761" y="445" width="3" height="3" fill="#5cbfa8"/>
<rect x="764" y="445" width="4" height="3" fill="#56bab8"/>
<rect x="768" y="445" width="4" height="3" fill="#5cbfa8"/>
<rect x="772" y="445" width="3" height="3" fill="#bac053"/>
<rect x="775" y="445" width="3" height="3" fill="#deb84e"/>
<rect x="778" y="445" width="4" height="3" fill="#f6f04e"/>
<rect x="782" y="445" width="3" height="3" fill="#f6f04e"/>
<rect x="785" y="445" width="4" height="3" fill="#f6de4f"/>
<rect x="789" y="445" width="3" height="3" fill="#5cbfa8"/>
<rect x="792" y="445" width="4" height="3" fill="#78c67e"/>
<rect x="796" y="445" width="3" height="3" fill="#bac053"/>
<rect x="799" y="445" width="4" height="3" fill="#deb84e"/>
<rect x="803" y="445" width="3" height="3" fill="#f5cc50"/>
<rect x="806" y="445" width="3" height="3" fill="#f6de4f"/>
<rect x="751" y="448" width="3" height="4" fill="#a8c35c"/>
<rect x="754" y="448" width="4" height="4" fill="#a8c35c"/>
<rect x="758" y="448" width="3" height="4" fill="#6ac293"/>
<rect x="761" y="448" width="3" height="4" fill="#56bab8"/>
<rect x="764" y="448" width="4" height="4" fill="#4fb4c8"/>
<rect x="768" y="448" width="4" height="4" fill="#4fb4c8"/>
<rect x="772" y="448" width="3" height="4" fill="#78c67e"/>
<rect x="775" y="448" width="3" height="4" fill="#a8c35c"/>
<rect x="778" y="448" width="4" height="4" fill="#f0b452"/>
<rect x="782" y="448" width="3" height="4" fill="#f0b452"/>
<rect x="785" y="448" width="4" height="4" fill="#f6de4f"/>
<rect x="789" y="448" width="3" height="4" fill="#56bab8"/>
<rect x="792" y="448" width="4" height="4" fill="#56bab8"/>
<rect x="796" y="448" width="3" height="4" fill="#56bab8"/>
<rect x="799" y="448" width="4" height="4" fill="#5cbfa8"/>
<rect x="803" y="448" width="3" height="4" fill="#78c67e"/>
<rect x="806" y="448" width="3" height="4" fill="#cdbc4a"/>
<rect x="809" y="448" width="4" height="4" fill="#f5cc50"/>
<rect x="751" y="452" width="3" height="3" fill="#6ac293"/>
<rect x="754" y="452" width="4" height="3" fill="#6ac293"/>
<rect x="758" y="452" width="3" height="3" fill="#56bab8"/>
<rect x="761" y="452" width="3" height="3" fill="#4caad2"/>
<rect x="764" y="452" width="4" height="3" fill="#4692e3"/>
<rect x="768" y="452" width="4" height="3" fill="#4692e3"/>
<rect x="772" y="452" width="3" height="3" fill="#48a0dc"/>
<rect x="775" y="452" width="3" height="3" fill="#4fb4c8"/>
<rect x="778" y="452" width="4" height="3" fill="#78c67e"/>
<rect x="782" y="452" width="3" height="3" fill="#bac053"/>
<rect x="785" y="452" width="4" height="3" fill="#f6de4f"/>
<rect x="789" y="452" width="3" height="3" fill="#5cbfa8"/>
<rect x="792" y="452" width="4" height="3" fill="#5cbfa8"/>
<rect x="796" y="452" width="3" height="3" fill="#5cbfa8"/>
<rect x="799" y="452" width="4" height="3" fill="#78c67e"/>
<rect x="803" y="452" width="3" height="3" fill="#a8c35c"/>
<rect x="806" y="452" width="3" height="3" fill="#f0b452"/>
<rect x="809" y="452" width="4" height="3" fill="#f6de4f"/>
<rect x="751" y="455" width="3" height="3" fill="#5cbfa8"/>
<rect x="754" y="455" width="4" height="3" fill="#5cbfa8"/>
<rect x="758" y="455" width="3" height="3" fill="#4caad2"/>
<rect x="761" y="455" width="3" height="3" fill="#4692e3"/>
<rect x="764" y="455" width="4" height="3" fill="#4668ee"/>
<rect x="768" y="455" width="4" height="3" fill="#4668ee"/>
<rect x="772" y="455" width="3" height="3" fill="#4668ee"/>
<rect x="775" y="455" width="3" height="3" fill="#4676ec"/>
<rect x="778" y="455" width="4" height="3" fill="#4585ea"/>
<rect x="782" y="455" width="3" height="3" fill="#4585ea"/>
<rect x="785" y="455" width="4" height="3" fill="#f6de4f"/>
<rect x="789" y="455" width="3" height="3" fill="#5cbfa8"/>
<rect x="792" y="455" width="4" height="3" fill="#5cbfa8"/>
<rect x="796" y="455" width="3" height="3" fill="#6ac293"/>
<rect x="799" y="455" width="4" height="3" fill="#78c67e"/>
<rect x="803" y="455" width="3" height="3" fill="#a8c35c"/>
<rect x="806" y="455" width="3" height="3" fill="#f0b452"/>
<rect x="809" y="455" width="4" height="3" fill="#f6f04e"/>
<rect x="751" y="458" width="3" height="4" fill="#56bab8"/>
<rect x="754" y="458" width="4" height="4" fill="#56bab8"/>
<rect x="758" y="458" width="3" height="4" fill="#48a0dc"/>
<rect x="761" y="458" width="3" height="4" fill="#4585ea"/>
<rect x="764" y="458" width="4" height="4" fill="#4458e2"/>
<rect x="768" y="458" width="4" height="4" fill="#4458e2"/>
<rect x="772" y="458" width="3" height="4" fill="#4349d6"/>
<rect x="775" y="458" width="3" height="4" fill="#4349d6"/>
<rect x="778" y="458" width="4" height="4" fill="#4349d6"/>
<rect x="782" y="458" width="3" height="4" fill="#4349d6"/>
<rect x="785" y="458" width="4" height="4" fill="#f6de4f"/>
<rect x="789" y="458" width="3" height="4" fill="#5cbfa8"/>
<rect x="792" y="458" width="4" height="4" fill="#5cbfa8"/>
<rect x="796" y="458" width="3" height="4" fill="#6ac293"/>
<rect x="799" y="458" width="4" height="4" fill="#78c67e"/>
<rect x="803" y="458" width="3" height="4" fill="#a8c35c"/>
<rect x="806" y="458" width="3" height="4" fill="#f0b452"/>
<rect x="809" y="458" width="4" height="4" fill="#f6f04e"/>
<rect x="754" y="462" width="4" height="3" fill="#bac053"/>
<rect x="758" y="462" width="3" height="3" fill="#78c67e"/>
<rect x="761" y="462" width="3" height="3" fill="#5cbfa8"/>
<rect x="764" y="462" width="4" height="3" fill="#56bab8"/>
<rect x="768" y="462" width="4" height="3" fill="#56bab8"/>
<rect x="772" y="462" width="3" height="3" fill="#5cbfa8"/>
<rect x="775" y="462" width="3" height="3" fill="#6ac293"/>
<rect x="778" y="462" width="4" height="3" fill="#90c46d"/>
<rect x="782" y="462" width="3" height="3" fill="#cdbc4a"/>
<rect x="785" y="462" width="4" height="3" fill="#f0b452"/>
<rect x="789" y="462" width="3" height="3" fill="#5cbfa8"/>
<rect x="792" y="462" width="4" height="3" fill="#5cbfa8"/>
<rect x="796" y="462" width="3" height="3" fill="#5cbfa8"/>
<rect x="799" y="462" width="4" height="3" fill="#78c67e"/>
<rect x="803" y="462" width="3" height="3" fill="#a8c35c"/>
<rect x="806" y="462" width="3" height="3" fill="#deb84e"/>
<rect x="809" y="462" width="4" height="3" fill="#f5cc50"/>
<rect x="754" y="465" width="4" height="4" fill="#78c67e"/>
<rect x="758" y="465" width="3" height="4" fill="#56bab8"/>
<rect x="761" y="465" width="3" height="4" fill="#4fb4c8"/>
<rect x="764" y="465" width="4" height="4" fill="#4caad2"/>
<rect x="768" y="465" width="4" height="4" fill="#4caad2"/>
<rect x="772" y="465" width="3" height="4" fill="#4fb4c8"/>
<rect x="775" y="465" width="3" height="4" fill="#56bab8"/>
<rect x="778" y="465" width="4" height="4" fill="#6ac293"/>
<rect x="782" y="465" width="3" height="4" fill="#90c46d"/>
<rect x="785" y="465" width="4" height="4" fill="#cdbc4a"/>
<rect x="789" y="465" width="3" height="4" fill="#56bab8"/>
<rect x="792" y="465" width="4" height="4" fill="#56bab8"/>
<rect x="796" y="465" width="3" height="4" fill="#5cbfa8"/>
<rect x="799" y="465" width="4" height="4" fill="#6ac293"/>
<rect x="803" y="465" width="3" height="4" fill="#90c46d"/>
<rect x="806" y="465" width="3" height="4" fill="#cdbc4a"/>
<rect x="809" y="465" width="4" height="4" fill="#f5cc50"/>
<rect x="754" y="469" width="4" height="3" fill="#56bab8"/>
<rect x="758" y="469" width="3" height="3" fill="#48a0dc"/>
<rect x="761" y="469" width="3" height="3" fill="#4692e3"/>
<rect x="764" y="469" width="4" height="3" fill="#4585ea"/>
<rect x="768" y="469" width="4" height="3" fill="#4585ea"/>
<rect x="772" y="469" width="3" height="3" fill="#4692e3"/>
<rect x="775" y="469" width="3" height="3" fill="#48a0dc"/>
<rect x="778" y="469" width="4" height="3" fill="#4fb4c8"/>
<rect x="782" y="469" width="3" height="3" fill="#5cbfa8"/>
<rect x="785" y="469" width="4" height="3" fill="#78c67e"/>
<rect x="789" y="469" width="3" height="3" fill="#4fb4c8"/>
<rect x="792" y="469" width="4" height="3" fill="#4fb4c8"/>
<rect x="796" y="469" width="3" height="3" fill="#4fb4c8"/>
<rect x="799" y="469" width="4" height="3" fill="#56bab8"/>
<rect x="803" y="469" width="3" height="3" fill="#78c67e"/>
<rect x="806" y="469" width="3" height="3" fill="#bac053"/>
<rect x="809" y="469" width="4" height="3" fill="#f0b452"/>
<rect x="754" y="472" width="4" height="4" fill="#4585ea"/>
<rect x="758" y="472" width="3" height="4" fill="#4668ee"/>
<rect x="761" y="472" width="3" height="4" fill="#4458e2"/>
<rect x="764" y="472" width="4" height="4" fill="#4349d6"/>
<rect x="768" y="472" width="4" height="4" fill="#4349d6"/>
<rect x="772" y="472" width="3" height="4" fill="#4458e2"/>
<rect x="775" y="472" width="3" height="4" fill="#4668ee"/>
<rect x="778" y="472" width="4" height="4" fill="#4676ec"/>
<rect x="782" y="472" width="3" height="4" fill="#4692e3"/>
<rect x="785" y="472" width="4" height="4" fill="#4fb4c8"/>
<rect x="789" y="472" width="3" height="4" fill="#4caad2"/>
<rect x="792" y="472" width="4" height="4" fill="#4caad2"/>
<rect x="796" y="472" width="3" height="4" fill="#4caad2"/>
<rect x="799" y="472" width="4" height="4" fill="#4fb4c8"/>
<rect x="803" y="472" width="3" height="4" fill="#5cbfa8"/>
<rect x="806" y="472" width="3" height="4" fill="#78c67e"/>
<rect x="809" y="472" width="4" height="4" fill="#cdbc4a"/>
<rect x="754" y="476" width="4" height="3" fill="#56bab8"/>
<rect x="758" y="476" width="3" height="3" fill="#48a0dc"/>
<rect x="761" y="476" width="3" height="3" fill="#4692e3"/>
<rect x="764" y="476" width="4" height="3" fill="#4585ea"/>
<rect x="768" y="476" width="4" height="3" fill="#4585ea"/>
<rect x="772" y="476" width="3" height="3" fill="#4585ea"/>
<rect x="775" y="476" width="3" height="3" fill="#4692e3"/>
<rect x="778" y="476" width="4" height="3" fill="#5cbfa8"/>
<rect x="782" y="476" width="3" height="3" fill="#4fb4c8"/>
<rect x="785" y="476" width="4" height="3" fill="#4692e3"/>
<rect x="789" y="476" width="3" height="3" fill="#4692e3"/>
<rect x="792" y="476" width="4" height="3" fill="#4692e3"/>
<rect x="796" y="476" width="3" height="3" fill="#4692e3"/>
<rect x="799" y="476" width="4" height="3" fill="#48a0dc"/>
<rect x="803" y="476" width="3" height="3" fill="#4fb4c8"/>
<rect x="806" y="476" width="3" height="3" fill="#5cbfa8"/>
<rect x="809" y="476" width="4" height="3" fill="#a8c35c"/>
<rect x="754" y="479" width="4" height="4" fill="#4585ea"/>
<rect x="758" y="479" width="3" height="4" fill="#4668ee"/>
<rect x="761" y="479" width="3" height="4" fill="#4458e2"/>
<rect x="764" y="479" width="4" height="4" fill="#4349d6"/>
<rect x="768" y="479" width="4" height="4" fill="#4349d6"/>
<rect x="772" y="479" width="3" height="4" fill="#4458e2"/>
<rect x="775" y="479" width="3" height="4" fill="#4668ee"/>
<rect x="778" y="479" width="4" height="4" fill="#4fb4c8"/>
<rect x="782" y="479" width="3" height="4" fill="#4692e3"/>
<rect x="785" y="479" width="4" height="4" fill="#4676ec"/>
<rect x="789" y="479" width="3" height="4" fill="#4676ec"/>
<rect x="792" y="479" width="4" height="4" fill="#4676ec"/>
<rect x="796" y="479" width="3" height="4" fill="#4676ec"/>
<rect x="799" y="479" width="4" height="4" fill="#4692e3"/>
<rect x="803" y="479" width="3" height="4" fill="#48a0dc"/>
<rect x="806" y="479" width="3" height="4" fill="#4fb4c8"/>
<rect x="809" y="479" width="4" height="4" fill="#78c67e"/>
<rect x="768" y="483" width="4" height="3" fill="#4caad2"/>
<rect x="772" y="483" width="3" height="3" fill="#4caad2"/>
<rect x="775" y="483" width="3" height="3" fill="#4692e3"/>
<rect x="778" y="483" width="4" height="3" fill="#4fb4c8"/>
<rect x="782" y="483" width="3" height="3" fill="#4692e3"/>
<rect x="785" y="483" width="4" height="3" fill="#4585ea"/>
<rect x="789" y="483" width="3" height="3" fill="#4676ec"/>
<rect x="792" y="483" width="4" height="3" fill="#4676ec"/>
<rect x="796" y="483" width="3" height="3" fill="#4676ec"/>
<rect x="799" y="483" width="4" height="3" fill="#4692e3"/>
<rect x="803" y="483" width="3" height="3" fill="#48a0dc"/>
<rect x="806" y="483" width="3" height="3" fill="#4fb4c8"/>
<rect x="809" y="483" width="4" height="3" fill="#78c67e"/>
<rect x="874" y="476" width="4" height="3" fill="#6ac293"/>
<rect x="878" y="476" width="3" height="3" fill="#56bab8"/>
<rect x="881" y="476" width="4" height="3" fill="#5cbfa8"/>
<rect x="885" y="476" width="3" height="3" fill="#6ac293"/>
<rect x="888" y="476" width="4" height="3" fill="#78c67e"/>
<rect x="892" y="476" width="3" height="3" fill="#78c67e"/>
<rect x="895" y="476" width="4" height="3" fill="#a8c35c"/>
<rect x="899" y="476" width="3" height="3" fill="#bac053"/>
<rect x="902" y="476" width="3" height="3" fill="#cdbc4a"/>
<rect x="905" y="476" width="4" height="3" fill="#deb84e"/>
<rect x="909" y="476" width="3" height="3" fill="#f0b452"/>
<rect x="874" y="479" width="4" height="4" fill="#6ac293"/>
<rect x="878" y="479" width="3" height="4" fill="#56bab8"/>
<rect x="881" y="479" width="4" height="4" fill="#5cbfa8"/>
<rect x="885" y="479" width="3" height="4" fill="#6ac293"/>
<rect x="888" y="479" width="4" height="4" fill="#78c67e"/>
<rect x="892" y="479" width="3" height="4" fill="#78c67e"/>
<rect x="895" y="479" width="4" height="4" fill="#a8c35c"/>
<rect x="899" y="479" width="3" height="4" fill="#bac053"/>
<rect x="902" y="479" width="3" height="4" fill="#cdbc4a"/>
<rect x="905" y="479" width="4" height="4" fill="#deb84e"/>
<rect x="909" y="479" width="3" height="4" fill="#f0b452"/>
<rect x="874" y="483" width="4" height="3" fill="#6ac293"/>
<rect x="878" y="483" width="3" height="3" fill="#56bab8"/>
<rect x="881" y="483" width="4" height="3" fill="#5cbfa8"/>
<rect x="885" y="483" width="3" height="3" fill="#6ac293"/>
<rect x="888" y="483" width="4" height="3" fill="#78c67e"/>
<rect x="892" y="483" width="3" height="3" fill="#78c67e"/>
<rect x="895" y="483" width="4" height="3" fill="#90c46d"/>
<rect x="899" y="483" width="3" height="3" fill="#bac053"/>
<rect x="902" y="483" width="3" height="3" fill="#cdbc4a"/>
<rect x="905" y="483" width="4" height="3" fill="#deb84e"/>
<rect x="909" y="483" width="3" height="3" fill="#f0b452"/>
<rect x="874" y="486" width="4" height="3" fill="#6ac293"/>
<rect x="878" y="486" width="3" height="3" fill="#4fb4c8"/>
<rect x="881" y="486" width="4" height="3" fill="#5cbfa8"/>
<rect x="885" y="486" width="3" height="3" fill="#6ac293"/>
<rect x="888" y="486" width="4" height="3" fill="#6ac293"/>
<rect x="892" y="486" width="3" height="3" fill="#78c67e"/>
<rect x="895" y="486" width="4" height="3" fill="#90c46d"/>
<rect x="899" y="486" width="3" height="3" fill="#a8c35c"/>
<rect x="902" y="486" width="3" height="3" fill="#cdbc4a"/>
<rect x="905" y="486" width="4" height="3" fill="#deb84e"/>
<rect x="909" y="486" width="3" height="3" fill="#f0b452"/>
<rect x="854" y="489" width="3" height="4" fill="#78c67e"/>
<rect x="857" y="489" width="4" height="4" fill="#78c67e"/>
<rect x="861" y="489" width="3" height="4" fill="#78c67e"/>
<rect x="864" y="489" width="4" height="4" fill="#5cbfa8"/>
<rect x="868" y="489" width="3" height="4" fill="#5cbfa8"/>
<rect x="871" y="489" width="3" height="4" fill="#5cbfa8"/>
<rect x="874" y="489" width="4" height="4" fill="#56bab8"/>
<rect x="878" y="489" width="3" height="4" fill="#4fb4c8"/>
<rect x="881" y="489" width="4" height="4" fill="#56bab8"/>
<rect x="885" y="489" width="3" height="4" fill="#5cbfa8"/>
<rect x="888" y="489" width="4" height="4" fill="#78c67e"/>
<rect x="892" y="489" width="3" height="4" fill="#78c67e"/>
<rect x="895" y="489" width="4" height="4" fill="#90c46d"/>
<rect x="899" y="489" width="3" height="4" fill="#a8c35c"/>
<rect x="902" y="489" width="3" height="4" fill="#bac053"/>
<rect x="905" y="489" width="4" height="4" fill="#cdbc4a"/>
<rect x="909" y="489" width="3" height="4" fill="#deb84e"/>
<rect x="840" y="493" width="4" height="3" fill="#6ac293"/>
<rect x="844" y="493" width="3" height="3" fill="#6ac293"/>
<rect x="847" y="493" width="3" height="3" fill="#78c67e"/>
<rect x="850" y="493" width="4" height="3" fill="#78c67e"/>
<rect x="854" y="493" width="3" height="3" fill="#78c67e"/>
<rect x="857" y="493" width="4" height="3" fill="#5cbfa8"/>
<rect x="861" y="493" width="3" height="3" fill="#5cbfa8"/>
<rect x="864" y="493" width="4" height="3" fill="#5cbfa8"/>
<rect x="868" y="493" width="3" height="3" fill="#5cbfa8"/>
<rect x="871" y="493" width="3" height="3" fill="#6ac293"/>
<rect x="874" y="493" width="4" height="3" fill="#cdbc4a"/>
<rect x="878" y="493" width="3" height="3" fill="#f2c051"/>
<rect x="881" y="493" width="4" height="3" fill="#4fb4c8"/>
<rect x="885" y="493" width="3" height="3" fill="#5cbfa8"/>
<rect x="888" y="493" width="4" height="3" fill="#5cbfa8"/>
<rect x="892" y="493" width="3" height="3" fill="#6ac293"/>
<rect x="895" y="493" width="4" height="3" fill="#78c67e"/>
<rect x="899" y="493" width="3" height="3" fill="#90c46d"/>
<rect x="902" y="493" width="3" height="3" fill="#a8c35c"/>
<rect x="905" y="493" width="4" height="3" fill="#bac053"/>
<rect x="909" y="493" width="3" height="3" fill="#cdbc4a"/>
<rect x="833" y="496" width="4" height="4" fill="#78c67e"/>
<rect x="837" y="496" width="3" height="4" fill="#78c67e"/>
<rect x="840" y="496" width="4" height="4" fill="#90c46d"/>
<rect x="844" y="496" width="3" height="4" fill="#90c46d"/>
<rect x="847" y="496" width="3" height="4" fill="#90c46d"/>
<rect x="850" y="496" width="4" height="4" fill="#90c46d"/>
<rect x="854" y="496" width="3" height="4" fill="#78c67e"/>
<rect x="857" y="496" width="4" height="4" fill="#78c67e"/>
<rect x="861" y="496" width="3" height="4" fill="#78c67e"/>
<rect x="864" y="496" width="4" height="4" fill="#78c67e"/>
<rect x="868" y="496" width="3" height="4" fill="#5cbfa8"/>
<rect x="871" y="496" width="3" height="4" fill="#5cbfa8"/>
<rect x="874" y="496" width="4" height="4" fill="#5cbfa8"/>
<rect x="878" y="496" width="3" height="4" fill="#5cbfa8"/>
<rect x="881" y="496" width="4" height="4" fill="#6ac293"/>
<rect x="885" y="496" width="3" height="4" fill="#a8c35c"/>
<rect x="888" y="496" width="4" height="4" fill="#f2c051"/>
<rect x="892" y="496" width="3" height="4" fill="#5cbfa8"/>
<rect x="895" y="496" width="4" height="4" fill="#5cbfa8"/>
<rect x="899" y="496" width="3" height="4" fill="#6ac293"/>
<rect x="902" y="496" width="3" height="4" fill="#78c67e"/>
<rect x="905" y="496" width="4" height="4" fill="#90c46d"/>
<rect x="909" y="496" width="3" height="4" fill="#bac053"/>
<rect x="833" y="500" width="4" height="3" fill="#90c46d"/>
<rect x="837" y="500" width="3" height="3" fill="#90c46d"/>
<rect x="840" y="500" width="4" height="3" fill="#a8c35c"/>
<rect x="844" y="500" width="3" height="3" fill="#a8c35c"/>
<rect x="847" y="500" width="3" height="3" fill="#a8c35c"/>
<rect x="850" y="500" width="4" height="3" fill="#78c67e"/>
<rect x="854" y="500" width="3" height="3" fill="#78c67e"/>
<rect x="857" y="500" width="4" height="3" fill="#90c46d"/>
<rect x="861" y="500" width="3" height="3" fill="#bac053"/>
<rect x="864" y="500" width="4" height="3" fill="#90c46d"/>
<rect x="868" y="500" width="3" height="3" fill="#78c67e"/>
<rect x="871" y="500" width="3" height="3" fill="#78c67e"/>
<rect x="874" y="500" width="4" height="3" fill="#78c67e"/>
<rect x="878" y="500" width="3" height="3" fill="#78c67e"/>
<rect x="881" y="500" width="4" height="3" fill="#78c67e"/>
<rect x="885" y="500" width="3" height="3" fill="#deb84e"/>
<rect x="888" y="500" width="4" height="3" fill="#f6f04e"/>
<rect x="892" y="500" width="3" height="3" fill="#4fb4c8"/>
<rect x="895" y="500" width="4" height="3" fill="#56bab8"/>
<rect x="899" y="500" width="3" height="3" fill="#5cbfa8"/>
<rect x="902" y="500" width="3" height="3" fill="#6ac293"/>
<rect x="905" y="500" width="4" height="3" fill="#78c67e"/>
<rect x="909" y="500" width="3" height="3" fill="#a8c35c"/>
<rect x="833" y="503" width="4" height="4" fill="#bac053"/>
<rect x="837" y="503" width="3" height="4" fill="#bac053"/>
<rect x="840" y="503" width="4" height="4" fill="#a8c35c"/>
<rect x="844" y="503" width="3" height="4" fill="#a8c35c"/>
<rect x="847" y="503" width="3" height="4" fill="#90c46d"/>
<rect x="850" y="503" width="4" height="4" fill="#90c46d"/>
<rect x="854" y="503" width="3" height="4" fill="#78c67e"/>
<rect x="857" y="503" width="4" height="4" fill="#78c67e"/>
<rect x="861" y="503" width="3" height="4" fill="#78c67e"/>
<rect x="864" y="503" width="4" height="4" fill="#78c67e"/>
<rect x="868" y="503" width="3" height="4" fill="#5cbfa8"/>
<rect x="871" y="503" width="3" height="4" fill="#5cbfa8"/>
<rect x="874" y="503" width="4" height="4" fill="#5cbfa8"/>
<rect x="878" y="503" width="3" height="4" fill="#5cbfa8"/>
<rect x="881" y="503" width="4" height="4" fill="#6ac293"/>
<rect x="885" y="503" width="3" height="4" fill="#a8c35c"/>
<rect x="888" y="503" width="4" height="4" fill="#f5cc50"/>
<rect x="892" y="503" width="3" height="4" fill="#4caad2"/>
<rect x="895" y="503" width="4" height="4" fill="#4fb4c8"/>
<rect x="899" y="503" width="3" height="4" fill="#56bab8"/>
<rect x="902" y="503" width="3" height="4" fill="#5cbfa8"/>
<rect x="905" y="503" width="4" height="4" fill="#6ac293"/>
<rect x="909" y="503" width="3" height="4" fill="#78c67e"/>
<rect x="833" y="507" width="4" height="3" fill="#bac053"/>
<rect x="837" y="507" width="3" height="3" fill="#bac053"/>
<rect x="840" y="507" width="4" height="3" fill="#90c46d"/>
<rect x="844" y="507" width="3" height="3" fill="#90c46d"/>
<rect x="847" y="507" width="3" height="3" fill="#78c67e"/>
<rect x="850" y="507" width="4" height="3" fill="#a8c35c"/>
<rect x="854" y="507" width="3" height="3" fill="#a8c35c"/>
<rect x="857" y="507" width="4" height="3" fill="#a8c35c"/>
<rect x="861" y="507" width="3" height="3" fill="#bac053"/>
<rect x="864" y="507" width="4" height="3" fill="#90c46d"/>
<rect x="868" y="507" width="3" height="3" fill="#78c67e"/>
<rect x="871" y="507" width="3" height="3" fill="#78c67e"/>
<rect x="874" y="507" width="4" height="3" fill="#78c67e"/>
<rect x="878" y="507" width="3" height="3" fill="#78c67e"/>
<rect x="881" y="507" width="4" height="3" fill="#90c46d"/>
<rect x="885" y="507" width="3" height="3" fill="#deb84e"/>
<rect x="888" y="507" width="4" height="3" fill="#f6f04e"/>
<rect x="892" y="507" width="3" height="3" fill="#4585ea"/>
<rect x="895" y="507" width="4" height="3" fill="#4692e3"/>
<rect x="899" y="507" width="3" height="3" fill="#48a0dc"/>
<rect x="902" y="507" width="3" height="3" fill="#4caad2"/>
<rect x="905" y="507" width="4" height="3" fill="#4fb4c8"/>
<rect x="909" y="507" width="3" height="3" fill="#56bab8"/>
<rect x="833" y="510" width="4" height="3" fill="#bac053"/>
<rect x="837" y="510" width="3" height="3" fill="#bac053"/>
<rect x="840" y="510" width="4" height="3" fill="#6ac293"/>
<rect x="844" y="510" width="3" height="3" fill="#6ac293"/>
<rect x="847" y="510" width="3" height="3" fill="#6ac293"/>
<rect x="850" y="510" width="4" height="3" fill="#a8c35c"/>
<rect x="854" y="510" width="3" height="3" fill="#a8c35c"/>
<rect x="857" y="510" width="4" height="3" fill="#bac053"/>
<rect x="861" y="510" width="3" height="3" fill="#bac053"/>
<rect x="864" y="510" width="4" height="3" fill="#90c46d"/>
<rect x="868" y="510" width="3" height="3" fill="#78c67e"/>
<rect x="871" y="510" width="3" height="3" fill="#78c67e"/>
<rect x="874" y="510" width="4" height="3" fill="#78c67e"/>
<rect x="878" y="510" width="3" height="3" fill="#78c67e"/>
<rect x="881" y="510" width="4" height="3" fill="#90c46d"/>
<rect x="885" y="510" width="3" height="3" fill="#deb84e"/>
<rect x="888" y="510" width="4" height="3" fill="#f6f04e"/>
<rect x="892" y="510" width="3" height="3" fill="#f5cc50"/>
<rect x="833" y="513" width="4" height="4" fill="#90c46d"/>
<rect x="837" y="513" width="3" height="4" fill="#90c46d"/>
<rect x="840" y="513" width="4" height="4" fill="#5cbfa8"/>
<rect x="844" y="513" width="3" height="4" fill="#5cbfa8"/>
<rect x="847" y="513" width="3" height="4" fill="#5cbfa8"/>
<rect x="850" y="513" width="4" height="4" fill="#90c46d"/>
<rect x="854" y="513" width="3" height="4" fill="#90c46d"/>
<rect x="857" y="513" width="4" height="4" fill="#a8c35c"/>
<rect x="861" y="513" width="3" height="4" fill="#bac053"/>
<rect x="864" y="513" width="4" height="4" fill="#90c46d"/>
<rect x="868" y="513" width="3" height="4" fill="#78c67e"/>
<rect x="871" y="513" width="3" height="4" fill="#78c67e"/>
<rect x="874" y="513" width="4" height="4" fill="#78c67e"/>
<rect x="878" y="513" width="3" height="4" fill="#78c67e"/>
<rect x="881" y="513" width="4" height="4" fill="#90c46d"/>
<rect x="885" y="513" width="3" height="4" fill="#deb84e"/>
<rect x="888" y="513" width="4" height="4" fill="#f6f04e"/>
<rect x="892" y="513" width="3" height="4" fill="#f0b452"/>
<rect x="833" y="517" width="4" height="3" fill="#6ac293"/>
<rect x="837" y="517" width="3" height="3" fill="#6ac293"/>
<rect x="840" y="517" width="4" height="3" fill="#4fb4c8"/>
<rect x="844" y="517" width="3" height="3" fill="#4fb4c8"/>
<rect x="847" y="517" width="3" height="3" fill="#4fb4c8"/>
<rect x="850" y="517" width="4" height="3" fill="#78c67e"/>
<rect x="854" y="517" width="3" height="3" fill="#78c67e"/>
<rect x="857" y="517" width="4" height="3" fill="#90c46d"/>
<rect x="861" y="517" width="3" height="3" fill="#90c46d"/>
<rect x="864" y="517" width="4" height="3" fill="#78c67e"/>
<rect x="868" y="517" width="3" height="3" fill="#6ac293"/>
<rect x="871" y="517" width="3" height="3" fill="#5cbfa8"/>
<rect x="874" y="517" width="4" height="3" fill="#5cbfa8"/>
<rect x="878" y="517" width="3" height="3" fill="#5cbfa8"/>
<rect x="881" y="517" width="4" height="3" fill="#78c67e"/>
<rect x="885" y="517" width="3" height="3" fill="#cdbc4a"/>
<rect x="888" y="517" width="4" height="3" fill="#f6de4f"/>
<rect x="892" y="517" width="3" height="3" fill="#deb84e"/>
<rect x="833" y="520" width="4" height="4" fill="#4fb4c8"/>
<rect x="837" y="520" width="3" height="4" fill="#4fb4c8"/>
<rect x="840" y="520" width="4" height="4" fill="#4fb4c8"/>
<rect x="844" y="520" width="3" height="4" fill="#4fb4c8"/>
<rect x="847" y="520" width="3" height="4" fill="#4fb4c8"/>
<rect x="850" y="520" width="4" height="4" fill="#5cbfa8"/>
<rect x="854" y="520" width="3" height="4" fill="#5cbfa8"/>
<rect x="857" y="520" width="4" height="4" fill="#78c67e"/>
<rect x="861" y="520" width="3" height="4" fill="#78c67e"/>
<rect x="864" y="520" width="4" height="4" fill="#6ac293"/>
<rect x="868" y="520" width="3" height="4" fill="#5cbfa8"/>
<rect x="871" y="520" width="3" height="4" fill="#56bab8"/>
<rect x="874" y="520" width="4" height="4" fill="#56bab8"/>
<rect x="878" y="520" width="3" height="4" fill="#5cbfa8"/>
<rect x="881" y="520" width="4" height="4" fill="#5cbfa8"/>
<rect x="885" y="520" width="3" height="4" fill="#a8c35c"/>
<rect x="888" y="520" width="4" height="4" fill="#f5cc50"/>
<rect x="892" y="520" width="3" height="4" fill="#deb84e"/>
<rect x="833" y="524" width="4" height="3" fill="#4fb4c8"/>
<rect x="837" y="524" width="3" height="3" fill="#4fb4c8"/>
<rect x="840" y="524" width="4" height="3" fill="#4fb4c8"/>
<rect x="844" y="524" width="3" height="3" fill="#4fb4c8"/>
<rect x="847" y="524" width="3" height="3" fill="#4fb4c8"/>
<rect x="850" y="524" width="4" height="3" fill="#4fb4c8"/>
<rect x="854" y="524" width="3" height="3" fill="#4fb4c8"/>
<rect x="857" y="524" width="4" height="3" fill="#6ac293"/>
<rect x="861" y="524" width="3" height="3" fill="#5cbfa8"/>
<rect x="864" y="524" width="4" height="3" fill="#56bab8"/>
<rect x="868" y="524" width="3" height="3" fill="#4fb4c8"/>
<rect x="871" y="524" width="3" height="3" fill="#4fb4c8"/>
<rect x="874" y="524" width="4" height="3" fill="#4fb4c8"/>
<rect x="878" y="524" width="3" height="3" fill="#4fb4c8"/>
<rect x="881" y="524" width="4" height="3" fill="#56bab8"/>
<rect x="885" y="524" width="3" height="3" fill="#78c67e"/>
<rect x="888" y="524" width="4" height="3" fill="#f2c051"/>
<rect x="892" y="524" width="3" height="3" fill="#deb84e"/>
<rect x="833" y="527" width="4" height="4" fill="#4fb4c8"/>
<rect x="837" y="527" width="3" height="4" fill="#4fb4c8"/>
<rect x="840" y="527" width="4" height="4" fill="#4fb4c8"/>
<rect x="844" y="527" width="3" height="4" fill="#4fb4c8"/>
<rect x="847" y="527" width="3" height="4" fill="#4fb4c8"/>
<rect x="850" y="527" width="4" height="4" fill="#4fb4c8"/>
<rect x="854" y="527" width="3" height="4" fill="#4fb4c8"/>
<rect x="857" y="527" width="4" height="4" fill="#4fb4c8"/>
<rect x="861" y="527" width="3" height="4" fill="#4fb4c8"/>
<rect x="864" y="527" width="4" height="4" fill="#4fb4c8"/>
<rect x="868" y="527" width="3" height="4" fill="#4caad2"/>
<rect x="871" y="527" width="3" height="4" fill="#48a0dc"/>
<rect x="874" y="527" width="4" height="4" fill="#48a0dc"/>
<rect x="878" y="527" width="3" height="4" fill="#48a0dc"/>
<rect x="881" y="527" width="4" height="4" fill="#4caad2"/>
<rect x="885" y="527" width="3" height="4" fill="#5cbfa8"/>
<rect x="888" y="527" width="4" height="4" fill="#cdbc4a"/>
<rect x="840" y="531" width="4" height="3" fill="#4fb4c8"/>
<rect x="844" y="531" width="3" height="3" fill="#4fb4c8"/>
<rect x="847" y="531" width="3" height="3" fill="#4fb4c8"/>
<rect x="850" y="531" width="4" height="3" fill="#4fb4c8"/>
<rect x="854" y="531" width="3" height="3" fill="#4fb4c8"/>
<rect x="857" y="531" width="4" height="3" fill="#4fb4c8"/>
<rect x="861" y="531" width="3" height="3" fill="#4fb4c8"/>
<rect x="864" y="531" width="4" height="3" fill="#4fb4c8"/>
<rect x="868" y="531" width="3" height="3" fill="#4caad2"/>
<rect x="871" y="531" width="3" height="3" fill="#48a0dc"/>
<rect x="874" y="531" width="4" height="3" fill="#48a0dc"/>
<rect x="878" y="531" width="3" height="3" fill="#48a0dc"/>
<rect x="881" y="531" width="4" height="3" fill="#4caad2"/>
<rect x="885" y="531" width="3" height="3" fill="#5cbfa8"/>
<rect x="888" y="531" width="4" height="3" fill="#cdbc4a"/>
<rect x="847" y="534" width="3" height="3" fill="#4fb4c8"/>
<rect x="850" y="534" width="4" height="3" fill="#4fb4c8"/>
<rect x="854" y="534" width="3" height="3" fill="#4fb4c8"/>
<rect x="857" y="534" width="4" height="3" fill="#4fb4c8"/>
<rect x="861" y="534" width="3" height="3" fill="#4fb4c8"/>
<rect x="864" y="534" width="4" height="3" fill="#4fb4c8"/>
<rect x="868" y="534" width="3" height="3" fill="#4caad2"/>
<rect x="871" y="534" width="3" height="3" fill="#48a0dc"/>
<rect x="874" y="534" width="4" height="3" fill="#48a0dc"/>
<rect x="878" y="534" width="3" height="3" fill="#48a0dc"/>
<rect x="881" y="534" width="4" height="3" fill="#4caad2"/>
<rect x="885" y="534" width="3" height="3" fill="#5cbfa8"/>
<rect x="888" y="534" width="4" height="3" fill="#cdbc4a"/></g>
<g shape-rendering="crispEdges"><rect x="839" y="120" width="4" height="3" fill="#a8c35c"/>
<rect x="843" y="120" width="3" height="3" fill="#78c67e"/>
<rect x="846" y="120" width="3" height="3" fill="#48a0dc"/>
<rect x="849" y="120" width="4" height="3" fill="#a8c35c"/>
<rect x="853" y="120" width="3" height="3" fill="#4caad2"/>
<rect x="856" y="120" width="4" height="3" fill="#4caad2"/>
<rect x="860" y="120" width="3" height="3" fill="#4caad2"/>
<rect x="863" y="120" width="4" height="3" fill="#4caad2"/>
<rect x="867" y="120" width="3" height="3" fill="#4caad2"/>
<rect x="870" y="120" width="4" height="3" fill="#4caad2"/>
<rect x="839" y="123" width="4" height="4" fill="#deb84e"/>
<rect x="843" y="123" width="3" height="4" fill="#a8c35c"/>
<rect x="846" y="123" width="3" height="4" fill="#48a0dc"/>
<rect x="849" y="123" width="4" height="4" fill="#cdbc4a"/>
<rect x="853" y="123" width="3" height="4" fill="#4fb4c8"/>
<rect x="856" y="123" width="4" height="4" fill="#4caad2"/>
<rect x="860" y="123" width="3" height="4" fill="#4caad2"/>
<rect x="863" y="123" width="4" height="4" fill="#4caad2"/>
<rect x="867" y="123" width="3" height="4" fill="#4caad2"/>
<rect x="870" y="123" width="4" height="4" fill="#4caad2"/>
<rect x="839" y="127" width="4" height="3" fill="#f6de4f"/>
<rect x="843" y="127" width="3" height="3" fill="#a8c35c"/>
<rect x="846" y="127" width="3" height="3" fill="#56bab8"/>
<rect x="849" y="127" width="4" height="3" fill="#f0b452"/>
<rect x="853" y="127" width="3" height="3" fill="#78c67e"/>
<rect x="856" y="127" width="4" height="3" fill="#4fb4c8"/>
<rect x="860" y="127" width="3" height="3" fill="#4fb4c8"/>
<rect x="863" y="127" width="4" height="3" fill="#4fb4c8"/>
<rect x="867" y="127" width="3" height="3" fill="#4fb4c8"/>
<rect x="870" y="127" width="4" height="3" fill="#4fb4c8"/>
<rect x="839" y="130" width="4" height="4" fill="#f6de4f"/>
<rect x="843" y="130" width="3" height="4" fill="#a8c35c"/>
<rect x="846" y="130" width="3" height="4" fill="#56bab8"/>
<rect x="849" y="130" width="4" height="4" fill="#f0b452"/>
<rect x="853" y="130" width="3" height="4" fill="#78c67e"/>
<rect x="856" y="130" width="4" height="4" fill="#4fb4c8"/>
<rect x="860" y="130" width="3" height="4" fill="#4fb4c8"/>
<rect x="863" y="130" width="4" height="4" fill="#4fb4c8"/>
<rect x="867" y="130" width="3" height="4" fill="#4fb4c8"/>
<rect x="870" y="130" width="4" height="4" fill="#4fb4c8"/>
<rect x="839" y="134" width="4" height="3" fill="#f6de4f"/>
<rect x="843" y="134" width="3" height="3" fill="#a8c35c"/>
<rect x="846" y="134" width="3" height="3" fill="#56bab8"/>
<rect x="849" y="134" width="4" height="3" fill="#f0b452"/>
<rect x="853" y="134" width="3" height="3" fill="#78c67e"/>
<rect x="856" y="134" width="4" height="3" fill="#4fb4c8"/>
<rect x="860" y="134" width="3" height="3" fill="#4fb4c8"/>
<rect x="863" y="134" width="4" height="3" fill="#4fb4c8"/>
<rect x="867" y="134" width="3" height="3" fill="#4fb4c8"/>
<rect x="870" y="134" width="4" height="3" fill="#4fb4c8"/>
<rect x="839" y="137" width="4" height="4" fill="#f6de4f"/>
<rect x="843" y="137" width="3" height="4" fill="#a8c35c"/>
<rect x="846" y="137" width="3" height="4" fill="#56bab8"/>
<rect x="849" y="137" width="4" height="4" fill="#f0b452"/>
<rect x="853" y="137" width="3" height="4" fill="#78c67e"/>
<rect x="856" y="137" width="4" height="4" fill="#4fb4c8"/>
<rect x="860" y="137" width="3" height="4" fill="#4fb4c8"/>
<rect x="863" y="137" width="4" height="4" fill="#4fb4c8"/>
<rect x="867" y="137" width="3" height="4" fill="#4fb4c8"/>
<rect x="870" y="137" width="4" height="4" fill="#4fb4c8"/>
<rect x="839" y="141" width="4" height="3" fill="#f6de4f"/>
<rect x="843" y="141" width="3" height="3" fill="#a8c35c"/>
<rect x="846" y="141" width="3" height="3" fill="#56bab8"/>
<rect x="849" y="141" width="4" height="3" fill="#f0b452"/>
<rect x="853" y="141" width="3" height="3" fill="#78c67e"/>
<rect x="856" y="141" width="4" height="3" fill="#4fb4c8"/>
<rect x="860" y="141" width="3" height="3" fill="#4fb4c8"/>
<rect x="863" y="141" width="4" height="3" fill="#4fb4c8"/>
<rect x="867" y="141" width="3" height="3" fill="#4fb4c8"/>
<rect x="870" y="141" width="4" height="3" fill="#4fb4c8"/>
<rect x="839" y="144" width="4" height="3" fill="#f6de4f"/>
<rect x="843" y="144" width="3" height="3" fill="#a8c35c"/>
<rect x="846" y="144" width="3" height="3" fill="#56bab8"/>
<rect x="849" y="144" width="4" height="3" fill="#f0b452"/>
<rect x="853" y="144" width="3" height="3" fill="#78c67e"/>
<rect x="856" y="144" width="4" height="3" fill="#4fb4c8"/>
<rect x="860" y="144" width="3" height="3" fill="#4fb4c8"/>
<rect x="863" y="144" width="4" height="3" fill="#4fb4c8"/>
<rect x="867" y="144" width="3" height="3" fill="#4fb4c8"/>
<rect x="870" y="144" width="4" height="3" fill="#4fb4c8"/>
<rect x="839" y="147" width="4" height="4" fill="#deb84e"/>
<rect x="843" y="147" width="3" height="4" fill="#a8c35c"/>
<rect x="846" y="147" width="3" height="4" fill="#48a0dc"/>
<rect x="849" y="147" width="4" height="4" fill="#cdbc4a"/>
<rect x="853" y="147" width="3" height="4" fill="#4fb4c8"/>
<rect x="856" y="147" width="4" height="4" fill="#4fb4c8"/>
<rect x="860" y="147" width="3" height="4" fill="#4fb4c8"/>
<rect x="863" y="147" width="4" height="4" fill="#4fb4c8"/>
<rect x="867" y="147" width="3" height="4" fill="#4fb4c8"/>
<rect x="870" y="147" width="4" height="4" fill="#4fb4c8"/>
<rect x="839" y="151" width="4" height="3" fill="#bac053"/>
<rect x="843" y="151" width="3" height="3" fill="#90c46d"/>
<rect x="846" y="151" width="3" height="3" fill="#48a0dc"/>
<rect x="849" y="151" width="4" height="3" fill="#a8c35c"/>
<rect x="853" y="151" width="3" height="3" fill="#4fb4c8"/>
<rect x="856" y="151" width="4" height="3" fill="#4fb4c8"/>
<rect x="860" y="151" width="3" height="3" fill="#4fb4c8"/>
<rect x="863" y="151" width="4" height="3" fill="#4fb4c8"/>
<rect x="867" y="151" width="3" height="3" fill="#4fb4c8"/>
<rect x="870" y="151" width="4" height="3" fill="#4fb4c8"/>
<rect x="850" y="126" width="3" height="4" fill="#bac053"/>
<rect x="853" y="126" width="3" height="4" fill="#78c67e"/>
<rect x="856" y="126" width="4" height="4" fill="#5cbfa8"/>
<rect x="860" y="126" width="3" height="4" fill="#5cbfa8"/>
<rect x="863" y="126" width="4" height="4" fill="#5cbfa8"/>
<rect x="867" y="126" width="3" height="4" fill="#5cbfa8"/>
<rect x="870" y="126" width="4" height="4" fill="#5cbfa8"/>
<rect x="874" y="126" width="3" height="4" fill="#5cbfa8"/>
<rect x="877" y="126" width="3" height="4" fill="#5cbfa8"/>
<rect x="880" y="126" width="4" height="4" fill="#78c67e"/>
<rect x="850" y="130" width="3" height="3" fill="#f2c051"/>
<rect x="853" y="130" width="3" height="3" fill="#a8c35c"/>
<rect x="856" y="130" width="4" height="3" fill="#5cbfa8"/>
<rect x="860" y="130" width="3" height="3" fill="#5cbfa8"/>
<rect x="863" y="130" width="4" height="3" fill="#5cbfa8"/>
<rect x="867" y="130" width="3" height="3" fill="#5cbfa8"/>
<rect x="870" y="130" width="4" height="3" fill="#5cbfa8"/>
<rect x="874" y="130" width="3" height="3" fill="#5cbfa8"/>
<rect x="877" y="130" width="3" height="3" fill="#6ac293"/>
<rect x="880" y="130" width="4" height="3" fill="#a8c35c"/>
<rect x="850" y="133" width="3" height="4" fill="#f2c051"/>
<rect x="853" y="133" width="3" height="4" fill="#a8c35c"/>
<rect x="856" y="133" width="4" height="4" fill="#5cbfa8"/>
<rect x="860" y="133" width="3" height="4" fill="#5cbfa8"/>
<rect x="863" y="133" width="4" height="4" fill="#5cbfa8"/>
<rect x="867" y="133" width="3" height="4" fill="#5cbfa8"/>
<rect x="870" y="133" width="4" height="4" fill="#5cbfa8"/>
<rect x="874" y="133" width="3" height="4" fill="#5cbfa8"/>
<rect x="877" y="133" width="3" height="4" fill="#6ac293"/>
<rect x="880" y="133" width="4" height="4" fill="#a8c35c"/>
<rect x="850" y="137" width="3" height="3" fill="#f2c051"/>
<rect x="853" y="137" width="3" height="3" fill="#a8c35c"/>
<rect x="856" y="137" width="4" height="3" fill="#5cbfa8"/>
<rect x="860" y="137" width="3" height="3" fill="#5cbfa8"/>
<rect x="863" y="137" width="4" height="3" fill="#5cbfa8"/>
<rect x="867" y="137" width="3" height="3" fill="#5cbfa8"/>
<rect x="870" y="137" width="4" height="3" fill="#5cbfa8"/>
<rect x="874" y="137" width="3" height="3" fill="#5cbfa8"/>
<rect x="877" y="137" width="3" height="3" fill="#6ac293"/>
<rect x="880" y="137" width="4" height="3" fill="#a8c35c"/>
<rect x="850" y="140" width="3" height="4" fill="#f2c051"/>
<rect x="853" y="140" width="3" height="4" fill="#a8c35c"/>
<rect x="856" y="140" width="4" height="4" fill="#5cbfa8"/>
<rect x="860" y="140" width="3" height="4" fill="#5cbfa8"/>
<rect x="863" y="140" width="4" height="4" fill="#5cbfa8"/>
<rect x="867" y="140" width="3" height="4" fill="#5cbfa8"/>
<rect x="870" y="140" width="4" height="4" fill="#5cbfa8"/>
<rect x="874" y="140" width="3" height="4" fill="#5cbfa8"/>
<rect x="877" y="140" width="3" height="4" fill="#6ac293"/>
<rect x="880" y="140" width="4" height="4" fill="#a8c35c"/>
<rect x="850" y="144" width="3" height="3" fill="#f2c051"/>
<rect x="853" y="144" width="3" height="3" fill="#a8c35c"/>
<rect x="856" y="144" width="4" height="3" fill="#5cbfa8"/>
<rect x="860" y="144" width="3" height="3" fill="#5cbfa8"/>
<rect x="863" y="144" width="4" height="3" fill="#5cbfa8"/>
<rect x="867" y="144" width="3" height="3" fill="#5cbfa8"/>
<rect x="870" y="144" width="4" height="3" fill="#5cbfa8"/>
<rect x="874" y="144" width="3" height="3" fill="#5cbfa8"/>
<rect x="877" y="144" width="3" height="3" fill="#6ac293"/>
<rect x="880" y="144" width="4" height="3" fill="#a8c35c"/>
<rect x="850" y="147" width="3" height="4" fill="#f2c051"/>
<rect x="853" y="147" width="3" height="4" fill="#a8c35c"/>
<rect x="856" y="147" width="4" height="4" fill="#5cbfa8"/>
<rect x="860" y="147" width="3" height="4" fill="#4fb4c8"/>
<rect x="863" y="147" width="4" height="4" fill="#4fb4c8"/>
<rect x="867" y="147" width="3" height="4" fill="#4fb4c8"/>
<rect x="870" y="147" width="4" height="4" fill="#4fb4c8"/>
<rect x="874" y="147" width="3" height="4" fill="#4fb4c8"/>
<rect x="877" y="147" width="3" height="4" fill="#6ac293"/>
<rect x="880" y="147" width="4" height="4" fill="#a8c35c"/>
<rect x="850" y="151" width="3" height="3" fill="#f0b452"/>
<rect x="853" y="151" width="3" height="3" fill="#a8c35c"/>
<rect x="856" y="151" width="4" height="3" fill="#5cbfa8"/>
<rect x="860" y="151" width="3" height="3" fill="#48a0dc"/>
<rect x="863" y="151" width="4" height="3" fill="#48a0dc"/>
<rect x="867" y="151" width="3" height="3" fill="#48a0dc"/>
<rect x="870" y="151" width="4" height="3" fill="#48a0dc"/>
<rect x="874" y="151" width="3" height="3" fill="#48a0dc"/>
<rect x="877" y="151" width="3" height="3" fill="#6ac293"/>
<rect x="880" y="151" width="4" height="3" fill="#a8c35c"/>
<rect x="850" y="154" width="3" height="3" fill="#cdbc4a"/>
<rect x="853" y="154" width="3" height="3" fill="#a8c35c"/>
<rect x="856" y="154" width="4" height="3" fill="#5cbfa8"/>
<rect x="860" y="154" width="3" height="3" fill="#48a0dc"/>
<rect x="863" y="154" width="4" height="3" fill="#48a0dc"/>
<rect x="867" y="154" width="3" height="3" fill="#48a0dc"/>
<rect x="870" y="154" width="4" height="3" fill="#48a0dc"/>
<rect x="874" y="154" width="3" height="3" fill="#48a0dc"/>
<rect x="877" y="154" width="3" height="3" fill="#6ac293"/>
<rect x="880" y="154" width="4" height="3" fill="#a8c35c"/>
<rect x="850" y="157" width="3" height="4" fill="#78c67e"/>
<rect x="853" y="157" width="3" height="4" fill="#78c67e"/>
<rect x="856" y="157" width="4" height="4" fill="#5cbfa8"/>
<rect x="860" y="157" width="3" height="4" fill="#48a0dc"/>
<rect x="863" y="157" width="4" height="4" fill="#48a0dc"/>
<rect x="867" y="157" width="3" height="4" fill="#48a0dc"/>
<rect x="870" y="157" width="4" height="4" fill="#48a0dc"/>
<rect x="874" y="157" width="3" height="4" fill="#48a0dc"/>
<rect x="877" y="157" width="3" height="4" fill="#6ac293"/>
<rect x="880" y="157" width="4" height="4" fill="#a8c35c"/>
<rect x="887" y="120" width="4" height="3" fill="#5cbfa8"/>
<rect x="891" y="120" width="3" height="3" fill="#48a0dc"/>
<rect x="894" y="120" width="4" height="3" fill="#48a0dc"/>
<rect x="898" y="120" width="3" height="3" fill="#48a0dc"/>
<rect x="901" y="120" width="3" height="3" fill="#48a0dc"/>
<rect x="904" y="120" width="4" height="3" fill="#48a0dc"/>
<rect x="908" y="120" width="3" height="3" fill="#4fb4c8"/>
<rect x="911" y="120" width="4" height="3" fill="#78c67e"/>
<rect x="915" y="120" width="3" height="3" fill="#4fb4c8"/>
<rect x="918" y="120" width="4" height="3" fill="#a8c35c"/>
<rect x="887" y="123" width="4" height="3" fill="#5cbfa8"/>
<rect x="891" y="123" width="3" height="3" fill="#48a0dc"/>
<rect x="894" y="123" width="4" height="3" fill="#48a0dc"/>
<rect x="898" y="123" width="3" height="3" fill="#48a0dc"/>
<rect x="901" y="123" width="3" height="3" fill="#48a0dc"/>
<rect x="904" y="123" width="4" height="3" fill="#48a0dc"/>
<rect x="908" y="123" width="3" height="3" fill="#4fb4c8"/>
<rect x="911" y="123" width="4" height="3" fill="#78c67e"/>
<rect x="915" y="123" width="3" height="3" fill="#4fb4c8"/>
<rect x="918" y="123" width="4" height="3" fill="#a8c35c"/>
<rect x="887" y="126" width="4" height="4" fill="#5cbfa8"/>
<rect x="891" y="126" width="3" height="4" fill="#48a0dc"/>
<rect x="894" y="126" width="4" height="4" fill="#48a0dc"/>
<rect x="898" y="126" width="3" height="4" fill="#48a0dc"/>
<rect x="901" y="126" width="3" height="4" fill="#48a0dc"/>
<rect x="904" y="126" width="4" height="4" fill="#48a0dc"/>
<rect x="908" y="126" width="3" height="4" fill="#4fb4c8"/>
<rect x="911" y="126" width="4" height="4" fill="#78c67e"/>
<rect x="915" y="126" width="3" height="4" fill="#4fb4c8"/>
<rect x="918" y="126" width="4" height="4" fill="#a8c35c"/>
<rect x="887" y="130" width="4" height="3" fill="#5cbfa8"/>
<rect x="891" y="130" width="3" height="3" fill="#48a0dc"/>
<rect x="894" y="130" width="4" height="3" fill="#48a0dc"/>
<rect x="898" y="130" width="3" height="3" fill="#48a0dc"/>
<rect x="901" y="130" width="3" height="3" fill="#48a0dc"/>
<rect x="904" y="130" width="4" height="3" fill="#48a0dc"/>
<rect x="908" y="130" width="3" height="3" fill="#4fb4c8"/>
<rect x="911" y="130" width="4" height="3" fill="#78c67e"/>
<rect x="915" y="130" width="3" height="3" fill="#4fb4c8"/>
<rect x="918" y="130" width="4" height="3" fill="#a8c35c"/>
<rect x="887" y="133" width="4" height="4" fill="#5cbfa8"/>
<rect x="891" y="133" width="3" height="4" fill="#48a0dc"/>
<rect x="894" y="133" width="4" height="4" fill="#48a0dc"/>
<rect x="898" y="133" width="3" height="4" fill="#48a0dc"/>
<rect x="901" y="133" width="3" height="4" fill="#48a0dc"/>
<rect x="904" y="133" width="4" height="4" fill="#48a0dc"/>
<rect x="908" y="133" width="3" height="4" fill="#4fb4c8"/>
<rect x="911" y="133" width="4" height="4" fill="#78c67e"/>
<rect x="915" y="133" width="3" height="4" fill="#4fb4c8"/>
<rect x="918" y="133" width="4" height="4" fill="#a8c35c"/>
<rect x="887" y="137" width="4" height="3" fill="#5cbfa8"/>
<rect x="891" y="137" width="3" height="3" fill="#48a0dc"/>
<rect x="894" y="137" width="4" height="3" fill="#48a0dc"/>
<rect x="898" y="137" width="3" height="3" fill="#48a0dc"/>
<rect x="901" y="137" width="3" height="3" fill="#48a0dc"/>
<rect x="904" y="137" width="4" height="3" fill="#48a0dc"/>
<rect x="908" y="137" width="3" height="3" fill="#4fb4c8"/>
<rect x="911" y="137" width="4" height="3" fill="#78c67e"/>
<rect x="915" y="137" width="3" height="3" fill="#4fb4c8"/>
<rect x="918" y="137" width="4" height="3" fill="#a8c35c"/>
<rect x="887" y="140" width="4" height="4" fill="#5cbfa8"/>
<rect x="891" y="140" width="3" height="4" fill="#48a0dc"/>
<rect x="894" y="140" width="4" height="4" fill="#48a0dc"/>
<rect x="898" y="140" width="3" height="4" fill="#48a0dc"/>
<rect x="901" y="140" width="3" height="4" fill="#48a0dc"/>
<rect x="904" y="140" width="4" height="4" fill="#48a0dc"/>
<rect x="908" y="140" width="3" height="4" fill="#4fb4c8"/>
<rect x="911" y="140" width="4" height="4" fill="#78c67e"/>
<rect x="915" y="140" width="3" height="4" fill="#4fb4c8"/>
<rect x="918" y="140" width="4" height="4" fill="#a8c35c"/>
<rect x="887" y="144" width="4" height="3" fill="#5cbfa8"/>
<rect x="891" y="144" width="3" height="3" fill="#48a0dc"/>
<rect x="894" y="144" width="4" height="3" fill="#48a0dc"/>
<rect x="898" y="144" width="3" height="3" fill="#48a0dc"/>
<rect x="901" y="144" width="3" height="3" fill="#48a0dc"/>
<rect x="904" y="144" width="4" height="3" fill="#48a0dc"/>
<rect x="908" y="144" width="3" height="3" fill="#4fb4c8"/>
<rect x="911" y="144" width="4" height="3" fill="#78c67e"/>
<rect x="915" y="144" width="3" height="3" fill="#4fb4c8"/>
<rect x="918" y="144" width="4" height="3" fill="#a8c35c"/>
<rect x="887" y="147" width="4" height="3" fill="#5cbfa8"/>
<rect x="891" y="147" width="3" height="3" fill="#4fb4c8"/>
<rect x="894" y="147" width="4" height="3" fill="#48a0dc"/>
<rect x="898" y="147" width="3" height="3" fill="#48a0dc"/>
<rect x="901" y="147" width="3" height="3" fill="#48a0dc"/>
<rect x="904" y="147" width="4" height="3" fill="#48a0dc"/>
<rect x="908" y="147" width="3" height="3" fill="#5cbfa8"/>
<rect x="911" y="147" width="4" height="3" fill="#a8c35c"/>
<rect x="915" y="147" width="3" height="3" fill="#5cbfa8"/>
<rect x="918" y="147" width="4" height="3" fill="#cdbc4a"/>
<rect x="887" y="150" width="4" height="4" fill="#78c67e"/>
<rect x="891" y="150" width="3" height="4" fill="#5cbfa8"/>
<rect x="894" y="150" width="4" height="4" fill="#48a0dc"/>
<rect x="898" y="150" width="3" height="4" fill="#48a0dc"/>
<rect x="901" y="150" width="3" height="4" fill="#48a0dc"/>
<rect x="904" y="150" width="4" height="4" fill="#48a0dc"/>
<rect x="908" y="150" width="3" height="4" fill="#48a0dc"/>
<rect x="911" y="150" width="4" height="4" fill="#5cbfa8"/>
<rect x="915" y="150" width="3" height="4" fill="#78c67e"/>
<rect x="918" y="150" width="4" height="4" fill="#78c67e"/>
<rect x="891" y="113" width="3" height="3" fill="#4fb4c8"/>
<rect x="894" y="113" width="4" height="3" fill="#48a0dc"/>
<rect x="898" y="113" width="3" height="3" fill="#48a0dc"/>
<rect x="901" y="113" width="4" height="3" fill="#48a0dc"/>
<rect x="905" y="113" width="3" height="3" fill="#48a0dc"/>
<rect x="908" y="113" width="3" height="3" fill="#4fb4c8"/>
<rect x="911" y="113" width="4" height="3" fill="#5cbfa8"/>
<rect x="915" y="113" width="3" height="3" fill="#cdbc4a"/>
<rect x="918" y="113" width="4" height="3" fill="#5cbfa8"/>
<rect x="922" y="113" width="3" height="3" fill="#cdbc4a"/>
<rect x="891" y="116" width="3" height="4" fill="#4fb4c8"/>
<rect x="894" y="116" width="4" height="4" fill="#48a0dc"/>
<rect x="898" y="116" width="3" height="4" fill="#48a0dc"/>
<rect x="901" y="116" width="4" height="4" fill="#48a0dc"/>
<rect x="905" y="116" width="3" height="4" fill="#48a0dc"/>
<rect x="908" y="116" width="3" height="4" fill="#4fb4c8"/>
<rect x="911" y="116" width="4" height="4" fill="#5cbfa8"/>
<rect x="915" y="116" width="3" height="4" fill="#cdbc4a"/>
<rect x="918" y="116" width="4" height="4" fill="#5cbfa8"/>
<rect x="922" y="116" width="3" height="4" fill="#cdbc4a"/>
<rect x="891" y="120" width="3" height="3" fill="#4fb4c8"/>
<rect x="894" y="120" width="4" height="3" fill="#48a0dc"/>
<rect x="898" y="120" width="3" height="3" fill="#48a0dc"/>
<rect x="901" y="120" width="4" height="3" fill="#48a0dc"/>
<rect x="905" y="120" width="3" height="3" fill="#48a0dc"/>
<rect x="908" y="120" width="3" height="3" fill="#4fb4c8"/>
<rect x="911" y="120" width="4" height="3" fill="#5cbfa8"/>
<rect x="915" y="120" width="3" height="3" fill="#cdbc4a"/>
<rect x="918" y="120" width="4" height="3" fill="#5cbfa8"/>
<rect x="922" y="120" width="3" height="3" fill="#cdbc4a"/>
<rect x="891" y="123" width="3" height="4" fill="#4fb4c8"/>
<rect x="894" y="123" width="4" height="4" fill="#48a0dc"/>
<rect x="898" y="123" width="3" height="4" fill="#48a0dc"/>
<rect x="901" y="123" width="4" height="4" fill="#48a0dc"/>
<rect x="905" y="123" width="3" height="4" fill="#48a0dc"/>
<rect x="908" y="123" width="3" height="4" fill="#4fb4c8"/>
<rect x="911" y="123" width="4" height="4" fill="#5cbfa8"/>
<rect x="915" y="123" width="3" height="4" fill="#cdbc4a"/>
<rect x="918" y="123" width="4" height="4" fill="#5cbfa8"/>
<rect x="922" y="123" width="3" height="4" fill="#cdbc4a"/>
<rect x="891" y="127" width="3" height="3" fill="#4fb4c8"/>
<rect x="894" y="127" width="4" height="3" fill="#48a0dc"/>
<rect x="898" y="127" width="3" height="3" fill="#48a0dc"/>
<rect x="901" y="127" width="4" height="3" fill="#48a0dc"/>
<rect x="905" y="127" width="3" height="3" fill="#48a0dc"/>
<rect x="908" y="127" width="3" height="3" fill="#4fb4c8"/>
<rect x="911" y="127" width="4" height="3" fill="#5cbfa8"/>
<rect x="915" y="127" width="3" height="3" fill="#cdbc4a"/>
<rect x="918" y="127" width="4" height="3" fill="#5cbfa8"/>
<rect x="922" y="127" width="3" height="3" fill="#cdbc4a"/>
<rect x="891" y="130" width="3" height="3" fill="#4fb4c8"/>
<rect x="894" y="130" width="4" height="3" fill="#48a0dc"/>
<rect x="898" y="130" width="3" height="3" fill="#48a0dc"/>
<rect x="901" y="130" width="4" height="3" fill="#48a0dc"/>
<rect x="905" y="130" width="3" height="3" fill="#48a0dc"/>
<rect x="908" y="130" width="3" height="3" fill="#4fb4c8"/>
<rect x="911" y="130" width="4" height="3" fill="#5cbfa8"/>
<rect x="915" y="130" width="3" height="3" fill="#cdbc4a"/>
<rect x="918" y="130" width="4" height="3" fill="#5cbfa8"/>
<rect x="922" y="130" width="3" height="3" fill="#cdbc4a"/>
<rect x="891" y="133" width="3" height="4" fill="#4fb4c8"/>
<rect x="894" y="133" width="4" height="4" fill="#48a0dc"/>
<rect x="898" y="133" width="3" height="4" fill="#48a0dc"/>
<rect x="901" y="133" width="4" height="4" fill="#48a0dc"/>
<rect x="905" y="133" width="3" height="4" fill="#48a0dc"/>
<rect x="908" y="133" width="3" height="4" fill="#4fb4c8"/>
<rect x="911" y="133" width="4" height="4" fill="#5cbfa8"/>
<rect x="915" y="133" width="3" height="4" fill="#cdbc4a"/>
<rect x="918" y="133" width="4" height="4" fill="#5cbfa8"/>
<rect x="922" y="133" width="3" height="4" fill="#cdbc4a"/>
<rect x="891" y="137" width="3" height="3" fill="#4fb4c8"/>
<rect x="894" y="137" width="4" height="3" fill="#48a0dc"/>
<rect x="898" y="137" width="3" height="3" fill="#48a0dc"/>
<rect x="901" y="137" width="4" height="3" fill="#48a0dc"/>
<rect x="905" y="137" width="3" height="3" fill="#48a0dc"/>
<rect x="908" y="137" width="3" height="3" fill="#4fb4c8"/>
<rect x="911" y="137" width="4" height="3" fill="#5cbfa8"/>
<rect x="915" y="137" width="3" height="3" fill="#cdbc4a"/>
<rect x="918" y="137" width="4" height="3" fill="#5cbfa8"/>
<rect x="922" y="137" width="3" height="3" fill="#cdbc4a"/>
<rect x="891" y="140" width="3" height="4" fill="#4fb4c8"/>
<rect x="894" y="140" width="4" height="4" fill="#48a0dc"/>
<rect x="898" y="140" width="3" height="4" fill="#48a0dc"/>
<rect x="901" y="140" width="4" height="4" fill="#48a0dc"/>
<rect x="905" y="140" width="3" height="4" fill="#48a0dc"/>
<rect x="908" y="140" width="3" height="4" fill="#48a0dc"/>
<rect x="911" y="140" width="4" height="4" fill="#5cbfa8"/>
<rect x="915" y="140" width="3" height="4" fill="#a8c35c"/>
<rect x="918" y="140" width="4" height="4" fill="#5cbfa8"/>
<rect x="922" y="140" width="3" height="4" fill="#a8c35c"/>
<rect x="891" y="144" width="3" height="3" fill="#4fb4c8"/>
<rect x="894" y="144" width="4" height="3" fill="#4fb4c8"/>
<rect x="898" y="144" width="3" height="3" fill="#4fb4c8"/>
<rect x="901" y="144" width="4" height="3" fill="#4fb4c8"/>
<rect x="905" y="144" width="3" height="3" fill="#4fb4c8"/>
<rect x="908" y="144" width="3" height="3" fill="#5cbfa8"/>
<rect x="911" y="144" width="4" height="3" fill="#cdbc4a"/>
<rect x="915" y="144" width="3" height="3" fill="#5cbfa8"/>
<rect x="918" y="144" width="4" height="3" fill="#a8c35c"/>
<rect x="922" y="144" width="3" height="3" fill="#5cbfa8"/>
<rect x="860" y="103" width="3" height="3" fill="#78c67e"/>
<rect x="863" y="103" width="4" height="3" fill="#78c67e"/>
<rect x="867" y="103" width="3" height="3" fill="#48a0dc"/>
<rect x="870" y="103" width="4" height="3" fill="#48a0dc"/>
<rect x="874" y="103" width="3" height="3" fill="#48a0dc"/>
<rect x="877" y="103" width="3" height="3" fill="#48a0dc"/>
<rect x="880" y="103" width="4" height="3" fill="#4caad2"/>
<rect x="884" y="103" width="3" height="3" fill="#5cbfa8"/>
<rect x="887" y="103" width="4" height="3" fill="#6ac293"/>
<rect x="891" y="103" width="3" height="3" fill="#78c67e"/>
<rect x="860" y="106" width="3" height="4" fill="#cdbc4a"/>
<rect x="863" y="106" width="4" height="4" fill="#78c67e"/>
<rect x="867" y="106" width="3" height="4" fill="#48a0dc"/>
<rect x="870" y="106" width="4" height="4" fill="#78c67e"/>
<rect x="874" y="106" width="3" height="4" fill="#48a0dc"/>
<rect x="877" y="106" width="3" height="4" fill="#48a0dc"/>
<rect x="880" y="106" width="4" height="4" fill="#4caad2"/>
<rect x="884" y="106" width="3" height="4" fill="#78c67e"/>
<rect x="887" y="106" width="4" height="4" fill="#6ac293"/>
<rect x="891" y="106" width="3" height="4" fill="#4fb4c8"/>
<rect x="860" y="110" width="3" height="3" fill="#f2c051"/>
<rect x="863" y="110" width="4" height="3" fill="#78c67e"/>
<rect x="867" y="110" width="3" height="3" fill="#56bab8"/>
<rect x="870" y="110" width="4" height="3" fill="#cdbc4a"/>
<rect x="874" y="110" width="3" height="3" fill="#78c67e"/>
<rect x="877" y="110" width="3" height="3" fill="#78c67e"/>
<rect x="880" y="110" width="4" height="3" fill="#6ac293"/>
<rect x="884" y="110" width="3" height="3" fill="#a8c35c"/>
<rect x="887" y="110" width="4" height="3" fill="#6ac293"/>
<rect x="891" y="110" width="3" height="3" fill="#48a0dc"/>
<rect x="860" y="113" width="3" height="4" fill="#f2c051"/>
<rect x="863" y="113" width="4" height="4" fill="#78c67e"/>
<rect x="867" y="113" width="3" height="4" fill="#56bab8"/>
<rect x="870" y="113" width="4" height="4" fill="#f2c051"/>
<rect x="874" y="113" width="3" height="4" fill="#78c67e"/>
<rect x="877" y="113" width="3" height="4" fill="#cdbc4a"/>
<rect x="880" y="113" width="4" height="4" fill="#78c67e"/>
<rect x="884" y="113" width="3" height="4" fill="#f0b452"/>
<rect x="887" y="113" width="4" height="4" fill="#6ac293"/>
<rect x="891" y="113" width="3" height="4" fill="#48a0dc"/>
<rect x="860" y="117" width="3" height="3" fill="#f2c051"/>
<rect x="863" y="117" width="4" height="3" fill="#78c67e"/>
<rect x="867" y="117" width="3" height="3" fill="#56bab8"/>
<rect x="870" y="117" width="4" height="3" fill="#f2c051"/>
<rect x="874" y="117" width="3" height="3" fill="#78c67e"/>
<rect x="877" y="117" width="3" height="3" fill="#f2c051"/>
<rect x="880" y="117" width="4" height="3" fill="#78c67e"/>
<rect x="884" y="117" width="3" height="3" fill="#f2c051"/>
<rect x="887" y="117" width="4" height="3" fill="#6ac293"/>
<rect x="891" y="117" width="3" height="3" fill="#4fb4c8"/>
<rect x="860" y="120" width="3" height="3" fill="#f2c051"/>
<rect x="863" y="120" width="4" height="3" fill="#78c67e"/>
<rect x="867" y="120" width="3" height="3" fill="#56bab8"/>
<rect x="870" y="120" width="4" height="3" fill="#f2c051"/>
<rect x="874" y="120" width="3" height="3" fill="#78c67e"/>
<rect x="877" y="120" width="3" height="3" fill="#f2c051"/>
<rect x="880" y="120" width="4" height="3" fill="#78c67e"/>
<rect x="884" y="120" width="3" height="3" fill="#f2c051"/>
<rect x="887" y="120" width="4" height="3" fill="#6ac293"/>
<rect x="891" y="120" width="3" height="3" fill="#4fb4c8"/>
<rect x="860" y="123" width="3" height="4" fill="#f2c051"/>
<rect x="863" y="123" width="4" height="4" fill="#78c67e"/>
<rect x="867" y="123" width="3" height="4" fill="#56bab8"/>
<rect x="870" y="123" width="4" height="4" fill="#f2c051"/>
<rect x="874" y="123" width="3" height="4" fill="#78c67e"/>
<rect x="877" y="123" width="3" height="4" fill="#f2c051"/>
<rect x="880" y="123" width="4" height="4" fill="#78c67e"/>
<rect x="884" y="123" width="3" height="4" fill="#f2c051"/>
<rect x="887" y="123" width="4" height="4" fill="#6ac293"/>
<rect x="891" y="123" width="3" height="4" fill="#4fb4c8"/>
<rect x="860" y="127" width="3" height="3" fill="#f2c051"/>
<rect x="863" y="127" width="4" height="3" fill="#78c67e"/>
<rect x="867" y="127" width="3" height="3" fill="#56bab8"/>
<rect x="870" y="127" width="4" height="3" fill="#f2c051"/>
<rect x="874" y="127" width="3" height="3" fill="#78c67e"/>
<rect x="877" y="127" width="3" height="3" fill="#f2c051"/>
<rect x="880" y="127" width="4" height="3" fill="#78c67e"/>
<rect x="884" y="127" width="3" height="3" fill="#f2c051"/>
<rect x="887" y="127" width="4" height="3" fill="#6ac293"/>
<rect x="891" y="127" width="3" height="3" fill="#4fb4c8"/>
<rect x="860" y="130" width="3" height="4" fill="#cdbc4a"/>
<rect x="863" y="130" width="4" height="4" fill="#5cbfa8"/>
<rect x="867" y="130" width="3" height="4" fill="#56bab8"/>
<rect x="870" y="130" width="4" height="4" fill="#f2c051"/>
<rect x="874" y="130" width="3" height="4" fill="#5cbfa8"/>
<rect x="877" y="130" width="3" height="4" fill="#f2c051"/>
<rect x="880" y="130" width="4" height="4" fill="#5cbfa8"/>
<rect x="884" y="130" width="3" height="4" fill="#f2c051"/>
<rect x="887" y="130" width="4" height="4" fill="#5cbfa8"/>
<rect x="891" y="130" width="3" height="4" fill="#4fb4c8"/>
<rect x="860" y="134" width="3" height="3" fill="#78c67e"/>
<rect x="863" y="134" width="4" height="3" fill="#5cbfa8"/>
<rect x="867" y="134" width="3" height="3" fill="#48a0dc"/>
<rect x="870" y="134" width="4" height="3" fill="#a8c35c"/>
<rect x="874" y="134" width="3" height="3" fill="#5cbfa8"/>
<rect x="877" y="134" width="3" height="3" fill="#cdbc4a"/>
<rect x="880" y="134" width="4" height="3" fill="#5cbfa8"/>
<rect x="884" y="134" width="3" height="3" fill="#f0b452"/>
<rect x="887" y="134" width="4" height="3" fill="#56bab8"/>
<rect x="891" y="134" width="3" height="3" fill="#4fb4c8"/>
<rect x="894" y="106" width="4" height="4" fill="#78c67e"/>
<rect x="898" y="106" width="3" height="4" fill="#5cbfa8"/>
<rect x="901" y="106" width="4" height="4" fill="#48a0dc"/>
<rect x="905" y="106" width="3" height="4" fill="#48a0dc"/>
<rect x="908" y="106" width="4" height="4" fill="#48a0dc"/>
<rect x="912" y="106" width="3" height="4" fill="#48a0dc"/>
<rect x="915" y="106" width="3" height="4" fill="#48a0dc"/>
<rect x="918" y="106" width="4" height="4" fill="#48a0dc"/>
<rect x="922" y="106" width="3" height="4" fill="#5cbfa8"/>
<rect x="925" y="106" width="4" height="4" fill="#78c67e"/>
<rect x="894" y="110" width="4" height="3" fill="#a8c35c"/>
<rect x="898" y="110" width="3" height="3" fill="#5cbfa8"/>
<rect x="901" y="110" width="4" height="3" fill="#4fb4c8"/>
<rect x="905" y="110" width="3" height="3" fill="#4fb4c8"/>
<rect x="908" y="110" width="4" height="3" fill="#4fb4c8"/>
<rect x="912" y="110" width="3" height="3" fill="#4fb4c8"/>
<rect x="915" y="110" width="3" height="3" fill="#4fb4c8"/>
<rect x="918" y="110" width="4" height="3" fill="#4fb4c8"/>
<rect x="922" y="110" width="3" height="3" fill="#5cbfa8"/>
<rect x="925" y="110" width="4" height="3" fill="#a8c35c"/>
<rect x="894" y="113" width="4" height="4" fill="#f2c051"/>
<rect x="898" y="113" width="3" height="4" fill="#6ac293"/>
<rect x="901" y="113" width="4" height="4" fill="#5cbfa8"/>
<rect x="905" y="113" width="3" height="4" fill="#5cbfa8"/>
<rect x="908" y="113" width="4" height="4" fill="#5cbfa8"/>
<rect x="912" y="113" width="3" height="4" fill="#5cbfa8"/>
<rect x="915" y="113" width="3" height="4" fill="#5cbfa8"/>
<rect x="918" y="113" width="4" height="4" fill="#5cbfa8"/>
<rect x="922" y="113" width="3" height="4" fill="#78c67e"/>
<rect x="925" y="113" width="4" height="4" fill="#f2c051"/>
<rect x="894" y="117" width="4" height="3" fill="#f2c051"/>
<rect x="898" y="117" width="3" height="3" fill="#6ac293"/>
<rect x="901" y="117" width="4" height="3" fill="#5cbfa8"/>
<rect x="905" y="117" width="3" height="3" fill="#5cbfa8"/>
<rect x="908" y="117" width="4" height="3" fill="#5cbfa8"/>
<rect x="912" y="117" width="3" height="3" fill="#5cbfa8"/>
<rect x="915" y="117" width="3" height="3" fill="#5cbfa8"/>
<rect x="918" y="117" width="4" height="3" fill="#5cbfa8"/>
<rect x="922" y="117" width="3" height="3" fill="#78c67e"/>
<rect x="925" y="117" width="4" height="3" fill="#f2c051"/>
<rect x="894" y="120" width="4" height="4" fill="#f2c051"/>
<rect x="898" y="120" width="3" height="4" fill="#6ac293"/>
<rect x="901" y="120" width="4" height="4" fill="#5cbfa8"/>
<rect x="905" y="120" width="3" height="4" fill="#5cbfa8"/>
<rect x="908" y="120" width="4" height="4" fill="#5cbfa8"/>
<rect x="912" y="120" width="3" height="4" fill="#5cbfa8"/>
<rect x="915" y="120" width="3" height="4" fill="#5cbfa8"/>
<rect x="918" y="120" width="4" height="4" fill="#5cbfa8"/>
<rect x="922" y="120" width="3" height="4" fill="#78c67e"/>
<rect x="925" y="120" width="4" height="4" fill="#f2c051"/>
<rect x="894" y="124" width="4" height="3" fill="#f2c051"/>
<rect x="898" y="124" width="3" height="3" fill="#6ac293"/>
<rect x="901" y="124" width="4" height="3" fill="#5cbfa8"/>
<rect x="905" y="124" width="3" height="3" fill="#5cbfa8"/>
<rect x="908" y="124" width="4" height="3" fill="#5cbfa8"/>
<rect x="912" y="124" width="3" height="3" fill="#5cbfa8"/>
<rect x="915" y="124" width="3" height="3" fill="#5cbfa8"/>
<rect x="918" y="124" width="4" height="3" fill="#5cbfa8"/>
<rect x="922" y="124" width="3" height="3" fill="#78c67e"/>
<rect x="925" y="124" width="4" height="3" fill="#f2c051"/>
<rect x="894" y="127" width="4" height="3" fill="#f2c051"/>
<rect x="898" y="127" width="3" height="3" fill="#6ac293"/>
<rect x="901" y="127" width="4" height="3" fill="#5cbfa8"/>
<rect x="905" y="127" width="3" height="3" fill="#5cbfa8"/>
<rect x="908" y="127" width="4" height="3" fill="#5cbfa8"/>
<rect x="912" y="127" width="3" height="3" fill="#5cbfa8"/>
<rect x="915" y="127" width="3" height="3" fill="#5cbfa8"/>
<rect x="918" y="127" width="4" height="3" fill="#5cbfa8"/>
<rect x="922" y="127" width="3" height="3" fill="#78c67e"/>
<rect x="925" y="127" width="4" height="3" fill="#f2c051"/>
<rect x="894" y="130" width="4" height="4" fill="#f2c051"/>
<rect x="898" y="130" width="3" height="4" fill="#6ac293"/>
<rect x="901" y="130" width="4" height="4" fill="#5cbfa8"/>
<rect x="905" y="130" width="3" height="4" fill="#5cbfa8"/>
<rect x="908" y="130" width="4" height="4" fill="#5cbfa8"/>
<rect x="912" y="130" width="3" height="4" fill="#5cbfa8"/>
<rect x="915" y="130" width="3" height="4" fill="#5cbfa8"/>
<rect x="918" y="130" width="4" height="4" fill="#5cbfa8"/>
<rect x="922" y="130" width="3" height="4" fill="#78c67e"/>
<rect x="925" y="130" width="4" height="4" fill="#f2c051"/>
<rect x="894" y="134" width="4" height="3" fill="#a8c35c"/>
<rect x="898" y="134" width="3" height="3" fill="#5cbfa8"/>
<rect x="901" y="134" width="4" height="3" fill="#4fb4c8"/>
<rect x="905" y="134" width="3" height="3" fill="#4fb4c8"/>
<rect x="908" y="134" width="4" height="3" fill="#4fb4c8"/>
<rect x="912" y="134" width="3" height="3" fill="#4fb4c8"/>
<rect x="915" y="134" width="3" height="3" fill="#4fb4c8"/>
<rect x="918" y="134" width="4" height="3" fill="#4fb4c8"/>
<rect x="922" y="134" width="3" height="3" fill="#5cbfa8"/>
<rect x="925" y="134" width="4" height="3" fill="#a8c35c"/>
<rect x="894" y="137" width="4" height="4" fill="#78c67e"/>
<rect x="898" y="137" width="3" height="4" fill="#5cbfa8"/>
<rect x="901" y="137" width="4" height="4" fill="#48a0dc"/>
<rect x="905" y="137" width="3" height="4" fill="#48a0dc"/>
<rect x="908" y="137" width="4" height="4" fill="#48a0dc"/>
<rect x="912" y="137" width="3" height="4" fill="#48a0dc"/>
<rect x="915" y="137" width="3" height="4" fill="#48a0dc"/>
<rect x="918" y="137" width="4" height="4" fill="#48a0dc"/>
<rect x="922" y="137" width="3" height="4" fill="#5cbfa8"/>
<rect x="925" y="137" width="4" height="4" fill="#78c67e"/>
<rect x="1389" y="229" width="48" height="34" fill="#4fb4c8"/>
<rect x="1389" y="229" width="3" height="34" fill="#bac053"/>
<rect x="1392" y="229" width="3" height="7" fill="#a8c35c"/>
<rect x="1392" y="236" width="3" height="27" fill="#5cbfa8"/>
<rect x="1395" y="229" width="4" height="3" fill="#5cbfa8"/>
<rect x="1399" y="229" width="7" height="3" fill="#a8c35c"/>
<rect x="1399" y="232" width="10" height="31" fill="#cdbc4a"/>
<rect x="1395" y="263" width="11" height="14" fill="#56bab8"/>
<rect x="1406" y="229" width="3" height="3" fill="#5cbfa8"/>
<rect x="1406" y="263" width="3" height="17" fill="#5cbfa8"/>
<rect x="1407" y="266" width="2" height="14" fill="#deb84e"/>
<rect x="1409" y="229" width="4" height="51" fill="#78c67e"/>
<rect x="1413" y="229" width="18" height="7" fill="#4fb4c8"/>
<rect x="1431" y="229" width="3" height="3" fill="#78c67e"/>
<rect x="1434" y="229" width="3" height="3" fill="#f0b452"/>
<rect x="1431" y="232" width="6" height="4" fill="#90c46d"/>
<rect x="1437" y="232" width="6" height="4" fill="#f0b452"/>
<rect x="1413" y="236" width="7" height="44" fill="#4caad2"/>
<rect x="1420" y="236" width="3" height="31" fill="#cdbc4a"/>
<rect x="1417" y="267" width="3" height="10" fill="#cdbc4a"/>
<rect x="1420" y="267" width="3" height="13" fill="#4fb4c8"/>
<rect x="1423" y="236" width="3" height="34" fill="#78c67e"/>
<rect x="1426" y="236" width="21" height="34" fill="#56bab8"/>
<rect x="1426" y="236" width="21" height="3" fill="#4fb4c8"/>
<rect x="1447" y="236" width="4" height="34" fill="#90c46d"/>
<rect x="1451" y="236" width="3" height="41" fill="#f0b452"/>
<rect x="1447" y="270" width="4" height="7" fill="#f2c051"/>
<rect x="1423" y="270" width="21" height="7" fill="#56bab8"/>
<rect x="1444" y="270" width="3" height="7" fill="#78c67e"/>
<rect x="1423" y="277" width="24" height="3" fill="#5cbfa8"/>
<rect x="1434" y="277" width="3" height="3" fill="#90c46d"/>
<rect x="1437" y="277" width="3" height="3" fill="#f0b452"/>
<rect x="1440" y="277" width="4" height="3" fill="#78c67e"/>
<rect x="1444" y="277" width="3" height="3" fill="#f0b452"/>
<rect x="1365" y="239" width="24" height="24" fill="#4fb4c8"/>
<rect x="1365" y="239" width="3" height="24" fill="#bac053"/>
<rect x="1368" y="239" width="4" height="24" fill="#cdbc4a"/>
<rect x="1372" y="239" width="3" height="24" fill="#78c67e"/>
<rect x="1375" y="239" width="4" height="24" fill="#4fb4c8"/>
<rect x="1379" y="239" width="3" height="4" fill="#4fb4c8"/>
<rect x="1379" y="243" width="3" height="20" fill="#cdbc4a"/>
<rect x="1382" y="239" width="4" height="4" fill="#4fb4c8"/>
<rect x="1382" y="243" width="4" height="20" fill="#78c67e"/>
<rect x="1386" y="239" width="3" height="24" fill="#4fb4c8"/>
<rect x="1361" y="260" width="4" height="3" fill="#f0b452"/>
<rect x="1361" y="263" width="4" height="34" fill="#f6f04e"/>
<rect x="1365" y="263" width="3" height="34" fill="#cdbc4a"/>
<rect x="1368" y="263" width="21" height="34" fill="#4fb4c8"/>
<rect x="1389" y="263" width="3" height="34" fill="#cdbc4a"/>
<rect x="1392" y="263" width="3" height="34" fill="#f6f04e"/>
<rect x="1039" y="308" width="34" height="54" fill="#5cbfa8"/>
<rect x="1039" y="308" width="4" height="54" fill="#78c67e"/>
<rect x="1043" y="308" width="7" height="54" fill="#6ac293"/>
<rect x="1050" y="308" width="17" height="31" fill="#5cbfa8"/>
<rect x="1048" y="314" width="6" height="9" fill="#56bab8"/>
<rect x="1051" y="331" width="6" height="10" fill="#56bab8"/>
<rect x="1059" y="308" width="8" height="14" fill="#6ac293"/>
<rect x="1067" y="308" width="3" height="6" fill="#f0b452"/>
<rect x="1070" y="308" width="3" height="6" fill="#f5cc50"/>
<rect x="1070" y="314" width="7" height="8" fill="#f2c051"/>
<rect x="1074" y="322" width="6" height="17" fill="#f5cc50"/>
<rect x="1070" y="322" width="4" height="17" fill="#f0b452"/>
<rect x="1067" y="314" width="3" height="25" fill="#78c67e"/>
<rect x="1042" y="322" width="8" height="2" fill="#a8c35c"/>
<rect x="1042" y="328" width="8" height="3" fill="#a8c35c"/>
<rect x="1067" y="325" width="6" height="3" fill="#f2c051"/>
<rect x="1025" y="362" width="28" height="34" fill="#5cbfa8"/>
<rect x="1047" y="362" width="6" height="34" fill="#78c67e"/>
<rect x="1053" y="376" width="3" height="20" fill="#cdbc4a"/>
<rect x="1056" y="376" width="4" height="20" fill="#f5cc50"/>
<rect x="1050" y="339" width="37" height="37" fill="#6ac293"/>
<rect x="1050" y="339" width="37" height="3" fill="#5cbfa8"/>
<rect x="1050" y="342" width="3" height="34" fill="#78c67e"/>
<rect x="1053" y="342" width="6" height="34" fill="#4fb4c8"/>
<rect x="1059" y="342" width="10" height="34" fill="#56bab8"/>
<rect x="1069" y="342" width="8" height="34" fill="#6ac293"/>
<rect x="1077" y="342" width="3" height="34" fill="#cdbc4a"/>
<rect x="1080" y="339" width="7" height="34" fill="#f5cc50"/>
<rect x="1077" y="373" width="6" height="3" fill="#deb84e"/>
<rect x="1070" y="356" width="28" height="40" fill="#6ac293"/>
<rect x="1070" y="376" width="6" height="20" fill="#78c67e"/>
<rect x="1076" y="376" width="6" height="20" fill="#4fb4c8"/>
<rect x="1082" y="376" width="9" height="20" fill="#5cbfa8"/>
<rect x="1091" y="376" width="7" height="20" fill="#78c67e"/>
<rect x="1087" y="356" width="11" height="20" fill="#5cbfa8"/>
<rect x="1098" y="376" width="3" height="20" fill="#deb84e"/>
<rect x="1101" y="376" width="10" height="20" fill="#f6de4f"/>
<rect x="1098" y="342" width="3" height="34" fill="#bac053"/>
<rect x="1101" y="342" width="3" height="34" fill="#5cbfa8"/>
<rect x="1104" y="342" width="11" height="34" fill="#4fb4c8"/>
<rect x="1114" y="339" width="4" height="9" fill="#cdbc4a"/>
<rect x="1114" y="348" width="4" height="35" fill="#bac053"/>
<rect x="1118" y="339" width="4" height="44" fill="#6ac293"/>
<rect x="1122" y="339" width="10" height="44" fill="#4fb4c8"/>
<rect x="1132" y="339" width="3" height="44" fill="#5cbfa8"/>
<rect x="1135" y="339" width="4" height="44" fill="#78c67e"/>
<rect x="1139" y="339" width="3" height="44" fill="#a8c35c"/>
<rect x="1142" y="339" width="3" height="44" fill="#f0b452"/>
<rect x="1145" y="339" width="4" height="44" fill="#f5cc50"/>
<rect x="1125" y="345" width="3" height="34" fill="#a8c35c"/>
<rect x="1128" y="345" width="4" height="34" fill="#6ac293"/>
<rect x="1132" y="345" width="17" height="34" fill="#5cbfa8"/>
<rect x="1136" y="369" width="10" height="10" fill="#4fb4c8"/>
<rect x="1149" y="345" width="4" height="34" fill="#78c67e"/>
<rect x="1152" y="345" width="4" height="34" fill="#bac053"/>
<rect x="1156" y="345" width="3" height="34" fill="#deb84e"/>
<rect x="1039" y="414" width="34" height="34" fill="#5cbfa8"/>
<rect x="1073" y="414" width="7" height="3" fill="#5cbfa8"/>
<rect x="1080" y="414" width="7" height="3" fill="#78c67e"/>
<rect x="1087" y="414" width="7" height="3" fill="#f0b452"/>
<rect x="1073" y="417" width="24" height="7" fill="#a8c35c"/>
<rect x="1081" y="417" width="6" height="4" fill="#5cbfa8"/>
<rect x="1087" y="417" width="3" height="7" fill="#bac053"/>
<rect x="1090" y="417" width="7" height="7" fill="#f2c051"/>
<rect x="1073" y="421" width="14" height="3" fill="#deb84e"/>
<rect x="1046" y="417" width="4" height="34" fill="#4fb4c8"/>
<rect x="1050" y="417" width="3" height="34" fill="#56bab8"/>
<rect x="1053" y="417" width="3" height="34" fill="#5cbfa8"/>
<rect x="1056" y="417" width="4" height="34" fill="#6ac293"/>
<rect x="1060" y="417" width="3" height="34" fill="#78c67e"/>
<rect x="1063" y="417" width="4" height="34" fill="#90c46d"/>
<rect x="1067" y="417" width="3" height="34" fill="#a8c35c"/>
<rect x="1070" y="417" width="3" height="34" fill="#cdbc4a"/>
<rect x="1073" y="417" width="4" height="34" fill="#deb84e"/>
<rect x="1077" y="417" width="3" height="34" fill="#f0b452"/>
<rect x="1050" y="421" width="3" height="33" fill="#4fb4c8"/>
<rect x="1053" y="421" width="3" height="33" fill="#56bab8"/>
<rect x="1056" y="421" width="4" height="33" fill="#5cbfa8"/>
<rect x="1060" y="421" width="3" height="33" fill="#6ac293"/>
<rect x="1063" y="421" width="3" height="33" fill="#78c67e"/>
<rect x="1066" y="421" width="4" height="33" fill="#90c46d"/>
<rect x="1070" y="421" width="3" height="33" fill="#a8c35c"/>
<rect x="1073" y="421" width="4" height="33" fill="#cdbc4a"/>
<rect x="1077" y="421" width="3" height="33" fill="#deb84e"/>
<rect x="1080" y="421" width="3" height="33" fill="#f0b452"/>
<rect x="1053" y="452" width="3" height="9" fill="#4692e3"/>
<rect x="1056" y="452" width="4" height="9" fill="#4caad2"/>
<rect x="1060" y="452" width="3" height="9" fill="#56bab8"/>
<rect x="1063" y="452" width="3" height="9" fill="#5cbfa8"/>
<rect x="1066" y="452" width="4" height="9" fill="#6ac293"/>
<rect x="1070" y="452" width="3" height="9" fill="#78c67e"/>
<rect x="1073" y="452" width="4" height="9" fill="#90c46d"/>
<rect x="1077" y="452" width="3" height="9" fill="#bac053"/>
<rect x="1080" y="452" width="3" height="9" fill="#deb84e"/>
<rect x="1083" y="452" width="4" height="9" fill="#f0b452"/>
<rect x="1080" y="424" width="24" height="34" fill="#f6f04e"/></g>
<defs><linearGradient id="cb" x1="0" y1="0" x2="0" y2="1"><stop offset="0.000" stop-color="#f6f04e"/><stop offset="0.083" stop-color="#f5cc50"/><stop offset="0.167" stop-color="#f0b452"/><stop offset="0.250" stop-color="#cdbc4a"/><stop offset="0.333" stop-color="#a8c35c"/><stop offset="0.417" stop-color="#78c67e"/><stop offset="0.500" stop-color="#5cbfa8"/><stop offset="0.583" stop-color="#4fb4c8"/><stop offset="0.667" stop-color="#48a0dc"/><stop offset="0.750" stop-color="#4585ea"/><stop offset="0.833" stop-color="#4668ee"/><stop offset="0.917" stop-color="#4349d6"/><stop offset="1.000" stop-color="#3b2f96"/></linearGradient></defs>
<rect x="1499" y="131" width="22.3" height="417.6" fill="url(#cb)" stroke="#666" stroke-width="0.8"/>
<text x="1528.20" y="140.60" font-family="Liberation Sans" font-size="24.95" font-weight="normal" font-style="normal" fill="#222" textLength="49.13" lengthAdjust="spacingAndGlyphs">0.36</text>
<line x1="1516.5" y1="206.8" x2="1521.3" y2="206.8" stroke="#555" stroke-width="1"/>
<text x="1528.20" y="216.48" font-family="Liberation Sans" font-size="25.34" font-weight="normal" font-style="normal" fill="#222" textLength="49.23" lengthAdjust="spacingAndGlyphs">0.34</text>
<line x1="1516.5" y1="282.8" x2="1521.3" y2="282.8" stroke="#555" stroke-width="1"/>
<text x="1528.20" y="292.36" font-family="Liberation Sans" font-size="25.34" font-weight="normal" font-style="normal" fill="#222" textLength="49.23" lengthAdjust="spacingAndGlyphs">0.32</text>
<line x1="1516.5" y1="358.8" x2="1521.3" y2="358.8" stroke="#555" stroke-width="1"/>
<text x="1528.20" y="368.24" font-family="Liberation Sans" font-size="25.34" font-weight="normal" font-style="normal" fill="#222">0.3</text>
<line x1="1516.5" y1="434.8" x2="1521.3" y2="434.8" stroke="#555" stroke-width="1"/>
<text x="1528.20" y="444.12" font-family="Liberation Sans" font-size="25.34" font-weight="normal" font-style="normal" fill="#222" textLength="49.23" lengthAdjust="spacingAndGlyphs">0.28</text>
<line x1="1516.5" y1="510.8" x2="1521.3" y2="510.8" stroke="#555" stroke-width="1"/>
<text x="1528.00" y="520.00" font-family="Liberation Sans" font-size="25.73" font-weight="normal" font-style="normal" fill="#222" textLength="49.33" lengthAdjust="spacingAndGlyphs">0.26</text>
<text x="176.90" y="183.90" font-family="Liberation Sans" font-size="34.08" font-weight="normal" font-style="normal" fill="#000" textLength="106.60" lengthAdjust="spacingAndGlyphs">human</text>
<text x="330.30" y="250.50" font-family="Liberation Sans" font-size="34.42" font-weight="normal" font-style="normal" fill="#000" textLength="199.97" lengthAdjust="spacingAndGlyphs">adaptive gain</text>
<text x="117.20" y="452.90" font-family="Liberation Sans" font-size="33.15" font-weight="normal" font-style="normal" fill="#000" textLength="140.17" lengthAdjust="spacingAndGlyphs">recurrent</text>
<text x="92.90" y="497.40" font-family="Liberation Sans" font-size="34.89" font-weight="normal" font-style="normal" fill="#000" textLength="198.17" lengthAdjust="spacingAndGlyphs">divisive norm</text>
<text x="1182.50" y="242.90" font-family="Liberation Sans" font-size="29.33" font-weight="normal" font-style="normal" fill="#000" textLength="157.72" lengthAdjust="spacingAndGlyphs">range norm</text>
<text x="1007.30" y="526.30" font-family="Liberation Sans" font-size="31.81" font-weight="normal" font-style="normal" fill="#000" textLength="272.92" lengthAdjust="spacingAndGlyphs">vanilla divisive norm</text>
<line x1="226.7" y1="186.5" x2="192.9" y2="219.6" stroke="#222" stroke-width="1.3"/><polygon points="186.6,225.8 190.5,214.4 198.1,222.1" fill="#000"/>
<line x1="355.6" y1="260.9" x2="295.7" y2="312.7" stroke="#222" stroke-width="1.3"/><polygon points="289.0,318.5 293.6,307.4 300.7,315.5" fill="#000"/>
<line x1="188.1" y1="424.8" x2="188.1" y2="372.4" stroke="#555" stroke-width="1.5"/><polygon points="188.1,363.5 193.4,374.4 182.8,374.4" fill="#000"/>
<line x1="1301.5" y1="250.1" x2="1355.3" y2="275.9" stroke="#222" stroke-width="1.3"/><polygon points="1363.2,279.7 1351.1,279.9 1355.8,270.2" fill="#000"/>
<line x1="1095.2" y1="504.5" x2="1074.4" y2="452.8" stroke="#222" stroke-width="1.3"/><polygon points="1071.2,444.9 1080.1,452.6 1070.1,456.7" fill="#000"/>
<rect x="80.1" y="757" width="365" height="244.6" stroke="#a4a4a4" stroke-width="1.6" fill="none"/>
<path d="M197.0 812.8L216.2 832.0M197.0 832.0L216.2 812.8" stroke="#5a5a5a" stroke-width="1.2" fill="none"/>
<rect x="530.1" y="757" width="365" height="244.6" stroke="#a4a4a4" stroke-width="1.6" fill="none"/>
<path d="M647.0 812.8L666.2 832.0M647.0 832.0L666.2 812.8" stroke="#5a5a5a" stroke-width="1.2" fill="none"/>
<rect x="981.1" y="757" width="365" height="244.6" stroke="#a4a4a4" stroke-width="1.6" fill="none"/>
<path d="M1098.0 812.8L1117.2 832.0M1098.0 832.0L1117.2 812.8" stroke="#5a5a5a" stroke-width="1.2" fill="none"/>
<circle cx="259.8" cy="871.6" r="13.4" fill="rgb(128,38,132)" fill-opacity="0.68"/>
<circle cx="319.7" cy="878.3" r="13.4" fill="rgb(128,38,132)" fill-opacity="0.68"/>
<circle cx="226.9" cy="896.2" r="13.4" fill="rgb(179,36,81)" fill-opacity="0.68"/>
<circle cx="242.1" cy="908.0" r="13.4" fill="rgb(230,35,30)" fill-opacity="0.68"/>
<circle cx="221.7" cy="902.8" r="13.4" fill="rgb(230,35,30)" fill-opacity="0.68"/>
<circle cx="275.4" cy="902.3" r="13.4" fill="rgb(128,38,132)" fill-opacity="0.68"/>
<circle cx="264.5" cy="896.4" r="13.4" fill="rgb(230,35,30)" fill-opacity="0.68"/>
<circle cx="287.0" cy="925.4" r="13.4" fill="rgb(128,38,132)" fill-opacity="0.68"/>
<circle cx="301.1" cy="905.9" r="13.4" fill="rgb(230,35,30)" fill-opacity="0.68"/>
<circle cx="222.8" cy="931.5" r="13.4" fill="rgb(230,35,30)" fill-opacity="0.68"/>
<circle cx="272.9" cy="940.6" r="13.4" fill="rgb(179,36,81)" fill-opacity="0.68"/>
<circle cx="292.5" cy="959.1" r="13.4" fill="rgb(179,36,81)" fill-opacity="0.68"/>
<circle cx="310.5" cy="959.1" r="13.4" fill="rgb(179,36,81)" fill-opacity="0.68"/>
<circle cx="335.2" cy="957.5" r="13.4" fill="rgb(128,38,132)" fill-opacity="0.68"/>
<circle cx="336.2" cy="953.2" r="13.4" fill="rgb(230,35,30)" fill-opacity="0.68"/>
<circle cx="345.3" cy="949.5" r="13.4" fill="rgb(230,35,30)" fill-opacity="0.68"/>
<circle cx="709.8" cy="871.6" r="13.4" fill="rgb(230,35,30)" fill-opacity="0.68"/>
<circle cx="769.7" cy="878.3" r="13.4" fill="rgb(230,35,30)" fill-opacity="0.68"/>
<circle cx="676.9" cy="896.2" r="13.4" fill="rgb(230,35,30)" fill-opacity="0.68"/>
<circle cx="692.1" cy="908.0" r="13.4" fill="rgb(230,35,30)" fill-opacity="0.68"/>
<circle cx="671.7" cy="902.8" r="13.4" fill="rgb(230,35,30)" fill-opacity="0.68"/>
<circle cx="725.4" cy="902.3" r="13.4" fill="rgb(230,35,30)" fill-opacity="0.68"/>
<circle cx="714.5" cy="896.4" r="13.4" fill="rgb(230,35,30)" fill-opacity="0.68"/>
<circle cx="737.0" cy="925.4" r="13.4" fill="rgb(230,35,30)" fill-opacity="0.68"/>
<circle cx="751.1" cy="905.9" r="13.4" fill="rgb(230,35,30)" fill-opacity="0.68"/>
<circle cx="672.8" cy="931.5" r="13.4" fill="rgb(230,35,30)" fill-opacity="0.68"/>
<circle cx="722.9" cy="940.6" r="13.4" fill="rgb(230,35,30)" fill-opacity="0.68"/>
<circle cx="742.5" cy="959.1" r="13.4" fill="rgb(230,35,30)" fill-opacity="0.68"/>
<circle cx="760.5" cy="959.1" r="13.4" fill="rgb(230,35,30)" fill-opacity="0.68"/>
<circle cx="785.2" cy="957.5" r="13.4" fill="rgb(230,35,30)" fill-opacity="0.68"/>
<circle cx="786.2" cy="953.2" r="13.4" fill="rgb(230,35,30)" fill-opacity="0.68"/>
<circle cx="795.3" cy="949.5" r="13.4" fill="rgb(230,35,30)" fill-opacity="0.68"/>
<circle cx="1160.8" cy="871.6" r="13.4" fill="rgb(25,40,235)" fill-opacity="0.68"/>
<circle cx="1220.7" cy="878.3" r="13.4" fill="rgb(179,36,81)" fill-opacity="0.68"/>
<circle cx="1127.9" cy="896.2" r="13.4" fill="rgb(25,40,235)" fill-opacity="0.68"/>
<circle cx="1143.1" cy="908.0" r="13.4" fill="rgb(76,39,184)" fill-opacity="0.68"/>
<circle cx="1122.7" cy="902.8" r="13.4" fill="rgb(25,40,235)" fill-opacity="0.68"/>
<circle cx="1176.4" cy="902.3" r="13.4" fill="rgb(76,39,184)" fill-opacity="0.68"/>
<circle cx="1165.5" cy="896.4" r="13.4" fill="rgb(25,40,235)" fill-opacity="0.68"/>
<circle cx="1188.0" cy="925.4" r="13.4" fill="rgb(128,38,132)" fill-opacity="0.68"/>
<circle cx="1202.1" cy="905.9" r="13.4" fill="rgb(128,38,132)" fill-opacity="0.68"/>
<circle cx="1123.8" cy="931.5" r="13.4" fill="rgb(179,36,81)" fill-opacity="0.68"/>
<circle cx="1173.9" cy="940.6" r="13.4" fill="rgb(76,39,184)" fill-opacity="0.68"/>
<circle cx="1193.5" cy="959.1" r="13.4" fill="rgb(179,36,81)" fill-opacity="0.68"/>
<circle cx="1211.5" cy="959.1" r="13.4" fill="rgb(230,35,30)" fill-opacity="0.68"/>
<circle cx="1236.2" cy="957.5" r="13.4" fill="rgb(230,35,30)" fill-opacity="0.68"/>
<circle cx="1237.2" cy="953.2" r="13.4" fill="rgb(230,35,30)" fill-opacity="0.68"/>
<circle cx="1246.3" cy="949.5" r="13.4" fill="rgb(230,35,30)" fill-opacity="0.68"/>
<text x="252.90" y="690.70" font-family="Liberation Serif" font-size="44.87" font-weight="bold" font-style="italic" fill="#000" textLength="27.41" lengthAdjust="spacingAndGlyphs">&#946;</text>
<text x="280.80" y="699.70" font-family="Liberation Serif" font-size="33.52" font-weight="bold" font-style="normal" fill="#000" textLength="19.72" lengthAdjust="spacingAndGlyphs">1</text>
<text x="703.10" y="691.60" font-family="Liberation Serif" font-size="45.67" font-weight="bold" font-style="italic" fill="#000" textLength="27.63" lengthAdjust="spacingAndGlyphs">&#946;</text>
<text x="731.20" y="699.70" font-family="Liberation Serif" font-size="33.08" font-weight="bold" font-style="normal" fill="#000" textLength="18.83" lengthAdjust="spacingAndGlyphs">2</text>
<text x="1151.00" y="691.00" font-family="Liberation Serif" font-size="44.74" font-weight="bold" font-style="italic" fill="#000" textLength="25.04" lengthAdjust="spacingAndGlyphs">k</text>
<text x="165.00" y="736.10" font-family="Liberation Sans" font-size="33.68" font-weight="normal" font-style="normal" fill="#000" textLength="220.29" lengthAdjust="spacingAndGlyphs">(denominator)</text>
<text x="606.20" y="735.70" font-family="Liberation Sans" font-size="33.68" font-weight="normal" font-style="normal" fill="#000" textLength="242.30" lengthAdjust="spacingAndGlyphs">(average/range)</text>
<text x="1080.10" y="736.40" font-family="Liberation Serif" font-size="39.08" font-weight="normal" font-style="normal" fill="#000" textLength="177.79" lengthAdjust="spacingAndGlyphs">(exponent)</text>
<rect x="1423.9" y="752" width="173.6" height="247.2" stroke="#bababa" stroke-width="1.8" fill="none"/>
<circle cx="1455.2" cy="779.8" r="6.6" fill="rgb(25,40,235)" fill-opacity="0.68"/>
<circle cx="1455.2" cy="817.4" r="6.6" fill="rgb(76,39,184)" fill-opacity="0.68"/>
<circle cx="1455.2" cy="855.5" r="6.6" fill="rgb(128,38,132)" fill-opacity="0.68"/>
<circle cx="1455.2" cy="892.3" r="6.6" fill="rgb(179,36,81)" fill-opacity="0.68"/>
<circle cx="1455.2" cy="929.8" r="6.6" fill="rgb(230,35,30)" fill-opacity="0.68"/>
<text x="1518.40" y="791.00" font-family="Liberation Sans" font-size="32.27" font-weight="normal" font-style="normal" fill="#000" textLength="18.84" lengthAdjust="spacingAndGlyphs">0</text>
<text x="1492.90" y="828.40" font-family="Liberation Sans" font-size="32.27" font-weight="normal" font-style="normal" fill="#000" textLength="61.05" lengthAdjust="spacingAndGlyphs">0.25</text>
<text x="1501.10" y="866.20" font-family="Liberation Sans" font-size="30.99" font-weight="normal" font-style="normal" fill="#000" textLength="43.79" lengthAdjust="spacingAndGlyphs">0.5</text>
<text x="1493.80" y="904.60" font-family="Liberation Sans" font-size="32.12" font-weight="normal" font-style="normal" fill="#000" textLength="58.99" lengthAdjust="spacingAndGlyphs">0.75</text>
<text x="1491.50" y="982.40" font-family="Liberation Sans" font-size="32.77" font-weight="normal" font-style="normal" fill="#000" textLength="96.10" lengthAdjust="spacingAndGlyphs">human</text>
<path d="M1527.5 941 L1530.7 941 L1530.7 919.3 L1528.2 919.3 C1527.6 922.2 1525.4 923.6 1521.2 923.9 L1521.2 926.3 L1527.5 926.3 Z" fill="#000"/>
<path d="M1448.2 964.9L1464.2 980.9M1448.2 980.9L1464.2 964.9" stroke="#000" stroke-width="2.2" fill="none"/>
</svg></body></html>
